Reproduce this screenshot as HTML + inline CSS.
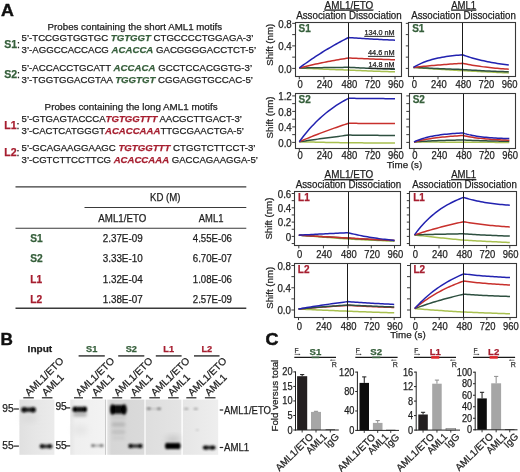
<!DOCTYPE html>
<html><head><meta charset="utf-8"><style>
html,body{margin:0;padding:0;background:#fff;}
svg{display:block;font-family:"Liberation Sans",sans-serif;opacity:0.999;}
</style></head><body>
<svg width="520" height="472" viewBox="0 0 520 472">
<rect width="520" height="472" fill="#fff"/>
<text x="1.00" y="15.50" font-size="16.8" fill="#111" font-weight="bold" textLength="12.90" lengthAdjust="spacingAndGlyphs" stroke="#111" stroke-width="0.4">A</text>
<text x="47.60" y="30.00" font-size="9.8" fill="#1e1e1e" textLength="174.60" lengthAdjust="spacingAndGlyphs" stroke="#1e1e1e" stroke-width="0.25">Probes containing the short AML1 motifs</text>
<text x="4.3" y="47.8" font-size="10.6" font-weight="bold" fill="#365f3b" stroke="#365f3b" stroke-width="0.25">S1<tspan dx="-0.3" fill="#1e1e1e" stroke="#1e1e1e" font-weight="normal">:</tspan></text>
<text x="21.60" y="41.10" font-size="9.9" fill="#1e1e1e" stroke="#1e1e1e" stroke-width="0.25" textLength="231.90" lengthAdjust="spacingAndGlyphs"><tspan>5’-TCCGGTGGTGC </tspan><tspan font-weight="bold" font-style="italic" fill="#365f3b" stroke="#365f3b">TGTGGT</tspan><tspan> CTGCCCCTGGAGA-3’</tspan></text>
<text x="21.60" y="52.90" font-size="9.9" fill="#1e1e1e" stroke="#1e1e1e" stroke-width="0.25" textLength="234.50" lengthAdjust="spacingAndGlyphs"><tspan>3’-AGGCCACCACG </tspan><tspan font-weight="bold" font-style="italic" fill="#365f3b" stroke="#365f3b">ACACCA</tspan><tspan> GACGGGGACCTCT-5’</tspan></text>
<text x="4.3" y="77.5" font-size="10.6" font-weight="bold" fill="#365f3b" stroke="#365f3b" stroke-width="0.25">S2<tspan dx="-0.3" fill="#1e1e1e" stroke="#1e1e1e" font-weight="normal">:</tspan></text>
<text x="21.60" y="71.40" font-size="9.9" fill="#1e1e1e" stroke="#1e1e1e" stroke-width="0.25" textLength="230.50" lengthAdjust="spacingAndGlyphs"><tspan>5’-ACCACCTGCATT </tspan><tspan font-weight="bold" font-style="italic" fill="#365f3b" stroke="#365f3b">ACCACA</tspan><tspan> GCCTCCACGGTG-3’</tspan></text>
<text x="21.60" y="83.40" font-size="9.9" fill="#1e1e1e" stroke="#1e1e1e" stroke-width="0.25" textLength="231.30" lengthAdjust="spacingAndGlyphs"><tspan>3’-TGGTGGACGTAA </tspan><tspan font-weight="bold" font-style="italic" fill="#365f3b" stroke="#365f3b">TGGTGT</tspan><tspan> CGGAGGTGCCAC-5’</tspan></text>
<text x="44.60" y="109.50" font-size="9.8" fill="#1e1e1e" textLength="173.00" lengthAdjust="spacingAndGlyphs" stroke="#1e1e1e" stroke-width="0.25">Probes containing the long AML1 motifs</text>
<text x="4.3" y="128.5" font-size="10.6" font-weight="bold" fill="#a61e2f" stroke="#a61e2f" stroke-width="0.25">L1<tspan dx="-0.3" fill="#1e1e1e" stroke="#1e1e1e" font-weight="normal">:</tspan></text>
<text x="21.60" y="122.30" font-size="9.9" fill="#1e1e1e" stroke="#1e1e1e" stroke-width="0.25" textLength="220.40" lengthAdjust="spacingAndGlyphs"><tspan>5’-GTGAGTACCCA</tspan><tspan font-weight="bold" font-style="italic" fill="#a61e2f" stroke="#a61e2f">TGTGGTTT</tspan><tspan> AACGCTTGACT-3’</tspan></text>
<text x="21.60" y="134.00" font-size="9.9" fill="#1e1e1e" stroke="#1e1e1e" stroke-width="0.25" textLength="222.40" lengthAdjust="spacingAndGlyphs"><tspan>3’-CACTCATGGGT</tspan><tspan font-weight="bold" font-style="italic" fill="#a61e2f" stroke="#a61e2f">ACACCAAA</tspan><tspan>TTGCGAACTGA-5’</tspan></text>
<text x="4.3" y="155.7" font-size="10.6" font-weight="bold" fill="#a61e2f" stroke="#a61e2f" stroke-width="0.25">L2<tspan dx="-0.3" fill="#1e1e1e" stroke="#1e1e1e" font-weight="normal">:</tspan></text>
<text x="21.60" y="151.10" font-size="9.9" fill="#1e1e1e" stroke="#1e1e1e" stroke-width="0.25" textLength="233.90" lengthAdjust="spacingAndGlyphs"><tspan>5’-GCAGAAGGAAGC </tspan><tspan font-weight="bold" font-style="italic" fill="#a61e2f" stroke="#a61e2f">TGTGGTTT</tspan><tspan> CTGGTCTTCCT-3’</tspan></text>
<text x="21.60" y="162.80" font-size="9.9" fill="#1e1e1e" stroke="#1e1e1e" stroke-width="0.25" textLength="236.40" lengthAdjust="spacingAndGlyphs"><tspan>3’-CGTCTTCCTTCG </tspan><tspan font-weight="bold" font-style="italic" fill="#a61e2f" stroke="#a61e2f">ACACCAAA</tspan><tspan> GACCAGAAGGA-5’</tspan></text>
<line x1="15.50" y1="186.80" x2="246.30" y2="186.80" stroke="#3a3a3a" stroke-width="1.3"/>
<line x1="84.50" y1="207.50" x2="246.30" y2="207.50" stroke="#3a3a3a" stroke-width="1.1"/>
<line x1="15.50" y1="228.30" x2="246.30" y2="228.30" stroke="#3a3a3a" stroke-width="1.1"/>
<line x1="15.50" y1="308.20" x2="246.30" y2="308.20" stroke="#3a3a3a" stroke-width="1.5"/>
<text x="150.00" y="200.90" font-size="10.2" fill="#1e1e1e" textLength="30.50" lengthAdjust="spacingAndGlyphs" stroke="#1e1e1e" stroke-width="0.25">KD (M)</text>
<text x="98.30" y="221.60" font-size="10.2" fill="#1e1e1e" textLength="48.00" lengthAdjust="spacingAndGlyphs" stroke="#1e1e1e" stroke-width="0.25">AML1/ETO</text>
<text x="198.80" y="221.60" font-size="10.2" fill="#1e1e1e" textLength="24.60" lengthAdjust="spacingAndGlyphs" stroke="#1e1e1e" stroke-width="0.25">AML1</text>
<text x="30.20" y="241.70" font-size="10.2" fill="#365f3b" font-weight="bold" stroke="#365f3b" stroke-width="0.25">S1</text>
<text x="102.70" y="241.70" font-size="10.2" fill="#1e1e1e" textLength="40.00" lengthAdjust="spacingAndGlyphs" stroke="#1e1e1e" stroke-width="0.25">2.37E-09</text>
<text x="192.80" y="241.70" font-size="10.2" fill="#1e1e1e" textLength="39.20" lengthAdjust="spacingAndGlyphs" stroke="#1e1e1e" stroke-width="0.25">4.55E-06</text>
<text x="30.20" y="262.30" font-size="10.2" fill="#365f3b" font-weight="bold" stroke="#365f3b" stroke-width="0.25">S2</text>
<text x="102.70" y="262.30" font-size="10.2" fill="#1e1e1e" textLength="40.00" lengthAdjust="spacingAndGlyphs" stroke="#1e1e1e" stroke-width="0.25">3.33E-10</text>
<text x="192.80" y="262.30" font-size="10.2" fill="#1e1e1e" textLength="39.20" lengthAdjust="spacingAndGlyphs" stroke="#1e1e1e" stroke-width="0.25">6.70E-07</text>
<text x="30.20" y="282.90" font-size="10.2" fill="#a61e2f" font-weight="bold" stroke="#a61e2f" stroke-width="0.25">L1</text>
<text x="102.70" y="282.90" font-size="10.2" fill="#1e1e1e" textLength="40.00" lengthAdjust="spacingAndGlyphs" stroke="#1e1e1e" stroke-width="0.25">1.32E-04</text>
<text x="192.80" y="282.90" font-size="10.2" fill="#1e1e1e" textLength="39.20" lengthAdjust="spacingAndGlyphs" stroke="#1e1e1e" stroke-width="0.25">1.08E-06</text>
<text x="30.20" y="303.40" font-size="10.2" fill="#a61e2f" font-weight="bold" stroke="#a61e2f" stroke-width="0.25">L2</text>
<text x="102.70" y="303.40" font-size="10.2" fill="#1e1e1e" textLength="40.00" lengthAdjust="spacingAndGlyphs" stroke="#1e1e1e" stroke-width="0.25">1.38E-07</text>
<text x="192.80" y="303.40" font-size="10.2" fill="#1e1e1e" textLength="39.20" lengthAdjust="spacingAndGlyphs" stroke="#1e1e1e" stroke-width="0.25">2.57E-09</text>
<path d="M299.30,68.00 L301.35,68.10 L303.41,68.20 L305.46,68.30 L307.52,68.40 L309.57,68.49 L311.62,68.59 L313.68,68.68 L315.73,68.77 L317.79,68.86 L319.84,68.95 L321.90,69.04 L323.95,69.13 L326.00,69.22 L328.06,69.30 L330.11,69.39 L332.17,69.47 L334.22,69.55 L336.28,69.63 L338.33,69.71 L340.38,69.79 L342.44,69.87 L344.49,69.95 L346.55,70.02 L348.60,70.10 L350.53,70.19 L352.47,70.28 L354.40,70.36 L356.33,70.45 L358.27,70.53 L360.20,70.61 L362.13,70.69 L364.07,70.76 L366.00,70.84 L367.93,70.91 L369.87,70.98 L371.80,71.06 L373.73,71.13 L375.67,71.19 L377.60,71.26 L379.53,71.32 L381.47,71.39 L383.40,71.45 L385.33,71.51 L387.27,71.57 L389.20,71.63 L391.13,71.69 L393.07,71.74 L395.00,71.80" fill="none" stroke="#a8c050" stroke-width="1.5" stroke-linejoin="round"/>
<path d="M299.30,68.00 L301.35,67.97 L303.41,67.93 L305.46,67.90 L307.52,67.87 L309.57,67.84 L311.62,67.80 L313.68,67.77 L315.73,67.74 L317.79,67.71 L319.84,67.68 L321.90,67.65 L323.95,67.62 L326.00,67.59 L328.06,67.57 L330.11,67.54 L332.17,67.51 L334.22,67.48 L336.28,67.46 L338.33,67.43 L340.38,67.40 L342.44,67.38 L344.49,67.35 L346.55,67.33 L348.60,67.30 L350.53,67.40 L352.47,67.51 L354.40,67.61 L356.33,67.71 L358.27,67.80 L360.20,67.90 L362.13,67.99 L364.07,68.08 L366.00,68.17 L367.93,68.26 L369.87,68.34 L371.80,68.42 L373.73,68.51 L375.67,68.59 L377.60,68.66 L379.53,68.74 L381.47,68.82 L383.40,68.89 L385.33,68.96 L387.27,69.03 L389.20,69.10 L391.13,69.17 L393.07,69.24 L395.00,69.30" fill="none" stroke="#2e5040" stroke-width="1.5" stroke-linejoin="round"/>
<path d="M299.30,68.00 L301.35,67.48 L303.41,66.96 L305.46,66.46 L307.52,65.97 L309.57,65.49 L311.62,65.01 L313.68,64.55 L315.73,64.10 L317.79,63.65 L319.84,63.22 L321.90,62.79 L323.95,62.38 L326.00,61.97 L328.06,61.57 L330.11,61.18 L332.17,60.80 L334.22,60.42 L336.28,60.05 L338.33,59.69 L340.38,59.34 L342.44,58.99 L344.49,58.66 L346.55,58.32 L348.60,58.00 L350.53,58.09 L352.47,58.19 L354.40,58.28 L356.33,58.37 L358.27,58.45 L360.20,58.54 L362.13,58.62 L364.07,58.70 L366.00,58.78 L367.93,58.86 L369.87,58.94 L371.80,59.01 L373.73,59.09 L375.67,59.16 L377.60,59.23 L379.53,59.30 L381.47,59.36 L383.40,59.43 L385.33,59.50 L387.27,59.56 L389.20,59.62 L391.13,59.68 L393.07,59.74 L395.00,59.80" fill="none" stroke="#c8302c" stroke-width="1.5" stroke-linejoin="round"/>
<path d="M299.30,68.00 L301.35,66.47 L303.41,64.97 L305.46,63.49 L307.52,62.03 L309.57,60.60 L311.62,59.20 L313.68,57.81 L315.73,56.45 L317.79,55.11 L319.84,53.80 L321.90,52.50 L323.95,51.23 L326.00,49.98 L328.06,48.75 L330.11,47.54 L332.17,46.35 L334.22,45.17 L336.28,44.02 L338.33,42.89 L340.38,41.78 L342.44,40.68 L344.49,39.60 L346.55,38.54 L348.60,37.50 L350.53,37.64 L352.47,37.78 L354.40,37.92 L356.33,38.05 L358.27,38.18 L360.20,38.31 L362.13,38.43 L364.07,38.55 L366.00,38.67 L367.93,38.79 L369.87,38.91 L371.80,39.02 L373.73,39.13 L375.67,39.24 L377.60,39.34 L379.53,39.45 L381.47,39.55 L383.40,39.65 L385.33,39.74 L387.27,39.84 L389.20,39.93 L391.13,40.02 L393.07,40.11 L395.00,40.20" fill="none" stroke="#2222b0" stroke-width="1.5" stroke-linejoin="round"/>
<line x1="348.50" y1="22.00" x2="348.50" y2="76.30" stroke="#1a1a1a" stroke-width="1"/>
<rect x="295.50" y="22.50" width="106.00" height="54.00" fill="none" stroke="#383838" stroke-width="1.1"/>
<line x1="292.20" y1="68.40" x2="295.20" y2="68.40" stroke="#383838" stroke-width="1"/>
<text x="278.23" y="72.70" font-size="10.5" fill="#1e1e1e" textLength="13.57" lengthAdjust="spacingAndGlyphs" stroke="#1e1e1e" stroke-width="0.25">0.0</text>
<line x1="292.20" y1="45.88" x2="295.20" y2="45.88" stroke="#383838" stroke-width="1"/>
<text x="278.23" y="50.18" font-size="10.5" fill="#1e1e1e" textLength="13.57" lengthAdjust="spacingAndGlyphs" stroke="#1e1e1e" stroke-width="0.25">0.4</text>
<line x1="292.20" y1="23.36" x2="295.20" y2="23.36" stroke="#383838" stroke-width="1"/>
<text x="278.23" y="27.66" font-size="10.5" fill="#1e1e1e" textLength="13.57" lengthAdjust="spacingAndGlyphs" stroke="#1e1e1e" stroke-width="0.25">0.8</text>
<line x1="292.20" y1="57.14" x2="295.20" y2="57.14" stroke="#383838" stroke-width="1"/>
<line x1="292.20" y1="34.62" x2="295.20" y2="34.62" stroke="#383838" stroke-width="1"/>
<line x1="299.30" y1="76.30" x2="299.30" y2="79.30" stroke="#383838" stroke-width="1"/>
<text x="297.47" y="87.70" font-size="10.5" fill="#1e1e1e" textLength="5.26" lengthAdjust="spacingAndGlyphs" stroke="#1e1e1e" stroke-width="0.25">0</text>
<line x1="323.95" y1="76.30" x2="323.95" y2="79.30" stroke="#383838" stroke-width="1"/>
<text x="316.87" y="87.70" font-size="10.5" fill="#1e1e1e" textLength="15.77" lengthAdjust="spacingAndGlyphs" stroke="#1e1e1e" stroke-width="0.25">240</text>
<line x1="348.60" y1="76.30" x2="348.60" y2="79.30" stroke="#383838" stroke-width="1"/>
<text x="341.52" y="87.70" font-size="10.5" fill="#1e1e1e" textLength="15.77" lengthAdjust="spacingAndGlyphs" stroke="#1e1e1e" stroke-width="0.25">480</text>
<line x1="371.80" y1="76.30" x2="371.80" y2="79.30" stroke="#383838" stroke-width="1"/>
<text x="364.72" y="87.70" font-size="10.5" fill="#1e1e1e" textLength="15.77" lengthAdjust="spacingAndGlyphs" stroke="#1e1e1e" stroke-width="0.25">720</text>
<line x1="395.00" y1="76.30" x2="395.00" y2="79.30" stroke="#383838" stroke-width="1"/>
<text x="387.92" y="87.70" font-size="10.5" fill="#1e1e1e" textLength="15.77" lengthAdjust="spacingAndGlyphs" stroke="#1e1e1e" stroke-width="0.25">960</text>
<text x="298.60" y="31.70" font-size="10.0" fill="#365f3b" font-weight="bold" stroke="#365f3b" stroke-width="0.25">S1</text>
<text transform="translate(272.50,44.80) rotate(-90)" font-size="9.7" fill="#1e1e1e" stroke="#1e1e1e" stroke-width="0.25" text-anchor="middle">Shift (nm)</text>
<text x="324.60" y="8.60" font-size="10.6" fill="#1e1e1e" textLength="48.70" lengthAdjust="spacingAndGlyphs" stroke="#1e1e1e" stroke-width="0.25" text-decoration="underline">AML1/ETO</text>
<text x="296.20" y="19.00" font-size="10.0" fill="#1e1e1e" textLength="105.50" lengthAdjust="spacingAndGlyphs" stroke="#1e1e1e" stroke-width="0.25">Association Dissociation</text>
<path d="M413.50,67.40 L415.54,67.57 L417.58,67.73 L419.62,67.89 L421.67,68.05 L423.71,68.20 L425.75,68.36 L427.79,68.50 L429.83,68.65 L431.88,68.79 L433.92,68.93 L435.96,69.07 L438.00,69.20 L440.04,69.33 L442.08,69.46 L444.12,69.58 L446.17,69.71 L448.21,69.83 L450.25,69.94 L452.29,70.06 L454.33,70.17 L456.38,70.28 L458.42,70.39 L460.46,70.50 L462.50,70.60 L464.43,70.71 L466.36,70.82 L468.29,70.93 L470.22,71.03 L472.15,71.14 L474.07,71.24 L476.00,71.34 L477.93,71.44 L479.86,71.54 L481.79,71.64 L483.72,71.74 L485.65,71.84 L487.58,71.93 L489.51,72.02 L491.44,72.12 L493.37,72.21 L495.30,72.30 L497.23,72.39 L499.15,72.48 L501.08,72.56 L503.01,72.65 L504.94,72.73 L506.87,72.82 L508.80,72.90" fill="none" stroke="#a8c050" stroke-width="1.5" stroke-linejoin="round"/>
<path d="M413.50,67.40 L415.54,67.51 L417.58,67.62 L419.62,67.72 L421.67,67.83 L423.71,67.93 L425.75,68.03 L427.79,68.12 L429.83,68.22 L431.88,68.31 L433.92,68.40 L435.96,68.49 L438.00,68.58 L440.04,68.67 L442.08,68.75 L444.12,68.83 L446.17,68.91 L448.21,68.99 L450.25,69.07 L452.29,69.14 L454.33,69.22 L456.38,69.29 L458.42,69.36 L460.46,69.43 L462.50,69.50 L464.43,69.64 L466.36,69.77 L468.29,69.90 L470.22,70.02 L472.15,70.14 L474.07,70.26 L476.00,70.37 L477.93,70.48 L479.86,70.58 L481.79,70.68 L483.72,70.78 L485.65,70.88 L487.58,70.97 L489.51,71.06 L491.44,71.14 L493.37,71.23 L495.30,71.31 L497.23,71.38 L499.15,71.46 L501.08,71.53 L503.01,71.60 L504.94,71.67 L506.87,71.74 L508.80,71.80" fill="none" stroke="#2e5040" stroke-width="1.5" stroke-linejoin="round"/>
<path d="M413.50,67.40 L415.54,67.18 L417.58,66.96 L419.62,66.74 L421.67,66.54 L423.71,66.33 L425.75,66.13 L427.79,65.94 L429.83,65.75 L431.88,65.57 L433.92,65.39 L435.96,65.22 L438.00,65.04 L440.04,64.88 L442.08,64.72 L444.12,64.56 L446.17,64.40 L448.21,64.25 L450.25,64.11 L452.29,63.96 L454.33,63.82 L456.38,63.69 L458.42,63.56 L460.46,63.43 L462.50,63.30 L464.43,63.71 L466.36,64.10 L468.29,64.48 L470.22,64.83 L472.15,65.17 L474.07,65.49 L476.00,65.79 L477.93,66.08 L479.86,66.36 L481.79,66.62 L483.72,66.87 L485.65,67.11 L487.58,67.34 L489.51,67.55 L491.44,67.75 L493.37,67.95 L495.30,68.13 L497.23,68.31 L499.15,68.48 L501.08,68.64 L503.01,68.79 L504.94,68.93 L506.87,69.07 L508.80,69.20" fill="none" stroke="#c8302c" stroke-width="1.5" stroke-linejoin="round"/>
<path d="M413.50,67.40 L415.54,66.20 L417.58,65.09 L419.62,64.09 L421.67,63.16 L423.71,62.31 L425.75,61.54 L427.79,60.82 L429.83,60.17 L431.88,59.57 L433.92,59.03 L435.96,58.53 L438.00,58.07 L440.04,57.65 L442.08,57.26 L444.12,56.91 L446.17,56.58 L448.21,56.29 L450.25,56.01 L452.29,55.76 L454.33,55.54 L456.38,55.33 L458.42,55.14 L460.46,54.96 L462.50,54.80 L464.43,55.48 L466.36,56.14 L468.29,56.76 L470.22,57.36 L472.15,57.93 L474.07,58.48 L476.00,59.00 L477.93,59.49 L479.86,59.97 L481.79,60.42 L483.72,60.85 L485.65,61.27 L487.58,61.66 L489.51,62.04 L491.44,62.40 L493.37,62.75 L495.30,63.07 L497.23,63.39 L499.15,63.69 L501.08,63.98 L503.01,64.25 L504.94,64.51 L506.87,64.76 L508.80,65.00" fill="none" stroke="#2222b0" stroke-width="1.5" stroke-linejoin="round"/>
<line x1="462.50" y1="22.00" x2="462.50" y2="76.30" stroke="#1a1a1a" stroke-width="1"/>
<rect x="408.50" y="22.50" width="107.00" height="54.00" fill="none" stroke="#383838" stroke-width="1.1"/>
<line x1="405.80" y1="68.40" x2="408.80" y2="68.40" stroke="#383838" stroke-width="1"/>
<line x1="405.80" y1="45.88" x2="408.80" y2="45.88" stroke="#383838" stroke-width="1"/>
<line x1="405.80" y1="23.36" x2="408.80" y2="23.36" stroke="#383838" stroke-width="1"/>
<line x1="405.80" y1="57.14" x2="408.80" y2="57.14" stroke="#383838" stroke-width="1"/>
<line x1="405.80" y1="34.62" x2="408.80" y2="34.62" stroke="#383838" stroke-width="1"/>
<line x1="413.50" y1="76.30" x2="413.50" y2="79.30" stroke="#383838" stroke-width="1"/>
<text x="411.67" y="87.70" font-size="10.5" fill="#1e1e1e" textLength="5.26" lengthAdjust="spacingAndGlyphs" stroke="#1e1e1e" stroke-width="0.25">0</text>
<line x1="438.00" y1="76.30" x2="438.00" y2="79.30" stroke="#383838" stroke-width="1"/>
<text x="430.92" y="87.70" font-size="10.5" fill="#1e1e1e" textLength="15.77" lengthAdjust="spacingAndGlyphs" stroke="#1e1e1e" stroke-width="0.25">240</text>
<line x1="462.50" y1="76.30" x2="462.50" y2="79.30" stroke="#383838" stroke-width="1"/>
<text x="455.42" y="87.70" font-size="10.5" fill="#1e1e1e" textLength="15.77" lengthAdjust="spacingAndGlyphs" stroke="#1e1e1e" stroke-width="0.25">480</text>
<line x1="485.65" y1="76.30" x2="485.65" y2="79.30" stroke="#383838" stroke-width="1"/>
<text x="478.57" y="87.70" font-size="10.5" fill="#1e1e1e" textLength="15.77" lengthAdjust="spacingAndGlyphs" stroke="#1e1e1e" stroke-width="0.25">720</text>
<line x1="508.80" y1="76.30" x2="508.80" y2="79.30" stroke="#383838" stroke-width="1"/>
<text x="501.72" y="87.70" font-size="10.5" fill="#1e1e1e" textLength="15.77" lengthAdjust="spacingAndGlyphs" stroke="#1e1e1e" stroke-width="0.25">960</text>
<text x="412.20" y="31.70" font-size="10.0" fill="#365f3b" font-weight="bold" stroke="#365f3b" stroke-width="0.25">S1</text>
<text x="451.20" y="8.60" font-size="10.6" fill="#1e1e1e" textLength="25.00" lengthAdjust="spacingAndGlyphs" stroke="#1e1e1e" stroke-width="0.25" text-decoration="underline">AML1</text>
<text x="411.20" y="19.00" font-size="10.0" fill="#1e1e1e" textLength="104.60" lengthAdjust="spacingAndGlyphs" stroke="#1e1e1e" stroke-width="0.25">Association Dissociation</text>
<path d="M299.30,141.80 L301.35,141.85 L303.41,141.90 L305.46,141.94 L307.52,141.99 L309.57,142.03 L311.62,142.08 L313.68,142.12 L315.73,142.17 L317.79,142.21 L319.84,142.25 L321.90,142.30 L323.95,142.34 L326.00,142.38 L328.06,142.42 L330.11,142.46 L332.17,142.50 L334.22,142.54 L336.28,142.58 L338.33,142.62 L340.38,142.65 L342.44,142.69 L344.49,142.73 L346.55,142.76 L348.60,142.80 L350.53,142.81 L352.47,142.82 L354.40,142.83 L356.33,142.84 L358.27,142.85 L360.20,142.86 L362.13,142.87 L364.07,142.88 L366.00,142.89 L367.93,142.90 L369.87,142.90 L371.80,142.91 L373.73,142.92 L375.67,142.93 L377.60,142.94 L379.53,142.94 L381.47,142.95 L383.40,142.96 L385.33,142.97 L387.27,142.97 L389.20,142.98 L391.13,142.99 L393.07,142.99 L395.00,143.00" fill="none" stroke="#a8c050" stroke-width="1.5" stroke-linejoin="round"/>
<path d="M299.30,141.80 L301.35,141.49 L303.41,141.19 L305.46,140.89 L307.52,140.59 L309.57,140.29 L311.62,140.00 L313.68,139.71 L315.73,139.42 L317.79,139.13 L319.84,138.84 L321.90,138.56 L323.95,138.28 L326.00,138.01 L328.06,137.73 L330.11,137.46 L332.17,137.19 L334.22,136.92 L336.28,136.65 L338.33,136.39 L340.38,136.13 L342.44,135.87 L344.49,135.61 L346.55,135.35 L348.60,135.10 L350.53,135.12 L352.47,135.14 L354.40,135.16 L356.33,135.18 L358.27,135.20 L360.20,135.22 L362.13,135.24 L364.07,135.26 L366.00,135.27 L367.93,135.29 L369.87,135.31 L371.80,135.32 L373.73,135.34 L375.67,135.36 L377.60,135.37 L379.53,135.39 L381.47,135.40 L383.40,135.42 L385.33,135.43 L387.27,135.45 L389.20,135.46 L391.13,135.47 L393.07,135.49 L395.00,135.50" fill="none" stroke="#2e5040" stroke-width="1.5" stroke-linejoin="round"/>
<path d="M299.30,141.80 L301.35,140.91 L303.41,140.04 L305.46,139.17 L307.52,138.32 L309.57,137.48 L311.62,136.64 L313.68,135.82 L315.73,135.01 L317.79,134.21 L319.84,133.41 L321.90,132.63 L323.95,131.86 L326.00,131.09 L328.06,130.34 L330.11,129.60 L332.17,128.86 L334.22,128.14 L336.28,127.42 L338.33,126.71 L340.38,126.01 L342.44,125.32 L344.49,124.64 L346.55,123.97 L348.60,123.30 L350.53,123.32 L352.47,123.33 L354.40,123.35 L356.33,123.36 L358.27,123.38 L360.20,123.39 L362.13,123.40 L364.07,123.42 L366.00,123.43 L367.93,123.44 L369.87,123.46 L371.80,123.47 L373.73,123.48 L375.67,123.49 L377.60,123.50 L379.53,123.52 L381.47,123.53 L383.40,123.54 L385.33,123.55 L387.27,123.56 L389.20,123.57 L391.13,123.58 L393.07,123.59 L395.00,123.60" fill="none" stroke="#c8302c" stroke-width="1.5" stroke-linejoin="round"/>
<path d="M299.30,141.80 L301.35,138.99 L303.41,136.30 L305.46,133.71 L307.52,131.24 L309.57,128.86 L311.62,126.58 L313.68,124.39 L315.73,122.29 L317.79,120.28 L319.84,118.35 L321.90,116.50 L323.95,114.72 L326.00,113.02 L328.06,111.39 L330.11,109.82 L332.17,108.32 L334.22,106.87 L336.28,105.49 L338.33,104.16 L340.38,102.89 L342.44,101.67 L344.49,100.50 L346.55,99.38 L348.60,98.30 L350.53,98.32 L352.47,98.34 L354.40,98.36 L356.33,98.38 L358.27,98.40 L360.20,98.42 L362.13,98.44 L364.07,98.46 L366.00,98.47 L367.93,98.49 L369.87,98.51 L371.80,98.52 L373.73,98.54 L375.67,98.56 L377.60,98.57 L379.53,98.59 L381.47,98.60 L383.40,98.62 L385.33,98.63 L387.27,98.65 L389.20,98.66 L391.13,98.67 L393.07,98.69 L395.00,98.70" fill="none" stroke="#2222b0" stroke-width="1.5" stroke-linejoin="round"/>
<line x1="348.50" y1="93.70" x2="348.50" y2="148.20" stroke="#1a1a1a" stroke-width="1"/>
<rect x="295.50" y="93.50" width="106.00" height="55.00" fill="none" stroke="#383838" stroke-width="1.1"/>
<line x1="292.20" y1="142.40" x2="295.20" y2="142.40" stroke="#383838" stroke-width="1"/>
<text x="278.23" y="146.70" font-size="10.5" fill="#1e1e1e" textLength="13.57" lengthAdjust="spacingAndGlyphs" stroke="#1e1e1e" stroke-width="0.25">0.0</text>
<line x1="292.20" y1="126.90" x2="295.20" y2="126.90" stroke="#383838" stroke-width="1"/>
<text x="278.23" y="131.20" font-size="10.5" fill="#1e1e1e" textLength="13.57" lengthAdjust="spacingAndGlyphs" stroke="#1e1e1e" stroke-width="0.25">0.4</text>
<line x1="292.20" y1="111.40" x2="295.20" y2="111.40" stroke="#383838" stroke-width="1"/>
<text x="278.23" y="115.70" font-size="10.5" fill="#1e1e1e" textLength="13.57" lengthAdjust="spacingAndGlyphs" stroke="#1e1e1e" stroke-width="0.25">0.8</text>
<line x1="292.20" y1="95.90" x2="295.20" y2="95.90" stroke="#383838" stroke-width="1"/>
<text x="278.23" y="100.20" font-size="10.5" fill="#1e1e1e" textLength="13.57" lengthAdjust="spacingAndGlyphs" stroke="#1e1e1e" stroke-width="0.25">1.2</text>
<line x1="292.20" y1="134.65" x2="295.20" y2="134.65" stroke="#383838" stroke-width="1"/>
<line x1="292.20" y1="119.15" x2="295.20" y2="119.15" stroke="#383838" stroke-width="1"/>
<line x1="292.20" y1="103.65" x2="295.20" y2="103.65" stroke="#383838" stroke-width="1"/>
<line x1="299.30" y1="148.20" x2="299.30" y2="151.20" stroke="#383838" stroke-width="1"/>
<text x="297.47" y="159.40" font-size="10.5" fill="#1e1e1e" textLength="5.26" lengthAdjust="spacingAndGlyphs" stroke="#1e1e1e" stroke-width="0.25">0</text>
<line x1="323.95" y1="148.20" x2="323.95" y2="151.20" stroke="#383838" stroke-width="1"/>
<text x="316.87" y="159.40" font-size="10.5" fill="#1e1e1e" textLength="15.77" lengthAdjust="spacingAndGlyphs" stroke="#1e1e1e" stroke-width="0.25">240</text>
<line x1="348.60" y1="148.20" x2="348.60" y2="151.20" stroke="#383838" stroke-width="1"/>
<text x="341.52" y="159.40" font-size="10.5" fill="#1e1e1e" textLength="15.77" lengthAdjust="spacingAndGlyphs" stroke="#1e1e1e" stroke-width="0.25">480</text>
<line x1="371.80" y1="148.20" x2="371.80" y2="151.20" stroke="#383838" stroke-width="1"/>
<text x="364.72" y="159.40" font-size="10.5" fill="#1e1e1e" textLength="15.77" lengthAdjust="spacingAndGlyphs" stroke="#1e1e1e" stroke-width="0.25">720</text>
<line x1="395.00" y1="148.20" x2="395.00" y2="151.20" stroke="#383838" stroke-width="1"/>
<text x="387.92" y="159.40" font-size="10.5" fill="#1e1e1e" textLength="15.77" lengthAdjust="spacingAndGlyphs" stroke="#1e1e1e" stroke-width="0.25">960</text>
<text x="298.60" y="103.40" font-size="10.0" fill="#365f3b" font-weight="bold" stroke="#365f3b" stroke-width="0.25">S2</text>
<text transform="translate(273.40,117.40) rotate(-90)" font-size="9.7" fill="#1e1e1e" stroke="#1e1e1e" stroke-width="0.25" text-anchor="middle">Shift (nm)</text>
<path d="M414.00,141.90 L416.04,141.92 L418.08,141.94 L420.12,141.96 L422.17,141.98 L424.21,142.00 L426.25,142.02 L428.29,142.04 L430.33,142.06 L432.38,142.07 L434.42,142.09 L436.46,142.11 L438.50,142.12 L440.54,142.14 L442.58,142.16 L444.62,142.17 L446.67,142.19 L448.71,142.20 L450.75,142.22 L452.79,142.23 L454.83,142.25 L456.88,142.26 L458.92,142.27 L460.96,142.29 L463.00,142.30 L464.93,142.31 L466.86,142.31 L468.79,142.32 L470.72,142.32 L472.65,142.33 L474.57,142.33 L476.50,142.33 L478.43,142.34 L480.36,142.34 L482.29,142.35 L484.22,142.35 L486.15,142.36 L488.08,142.36 L490.01,142.36 L491.94,142.37 L493.87,142.37 L495.80,142.38 L497.73,142.38 L499.65,142.38 L501.58,142.39 L503.51,142.39 L505.44,142.39 L507.37,142.40 L509.30,142.40" fill="none" stroke="#a8c050" stroke-width="1.5" stroke-linejoin="round"/>
<path d="M414.00,141.90 L416.04,141.75 L418.08,141.61 L420.12,141.48 L422.17,141.36 L424.21,141.24 L426.25,141.14 L428.29,141.03 L430.33,140.94 L432.38,140.85 L434.42,140.76 L436.46,140.68 L438.50,140.61 L440.54,140.54 L442.58,140.47 L444.62,140.41 L446.67,140.35 L448.71,140.30 L450.75,140.25 L452.79,140.20 L454.83,140.15 L456.88,140.11 L458.92,140.07 L460.96,140.04 L463.00,140.00 L464.93,140.09 L466.86,140.18 L468.79,140.26 L470.72,140.34 L472.65,140.41 L474.57,140.48 L476.50,140.55 L478.43,140.61 L480.36,140.67 L482.29,140.73 L484.22,140.79 L486.15,140.84 L488.08,140.89 L490.01,140.94 L491.94,140.98 L493.87,141.02 L495.80,141.07 L497.73,141.10 L499.65,141.14 L501.58,141.18 L503.51,141.21 L505.44,141.24 L507.37,141.27 L509.30,141.30" fill="none" stroke="#2e5040" stroke-width="1.5" stroke-linejoin="round"/>
<path d="M414.00,141.90 L416.04,141.40 L418.08,140.93 L420.12,140.49 L422.17,140.08 L424.21,139.69 L426.25,139.32 L428.29,138.98 L430.33,138.66 L432.38,138.36 L434.42,138.07 L436.46,137.80 L438.50,137.55 L440.54,137.32 L442.58,137.10 L444.62,136.89 L446.67,136.69 L448.71,136.51 L450.75,136.34 L452.79,136.17 L454.83,136.02 L456.88,135.88 L458.92,135.74 L460.96,135.62 L463.00,135.50 L464.93,135.93 L466.86,136.33 L468.79,136.70 L470.72,137.04 L472.65,137.35 L474.57,137.64 L476.50,137.90 L478.43,138.14 L480.36,138.37 L482.29,138.57 L484.22,138.76 L486.15,138.94 L488.08,139.10 L490.01,139.24 L491.94,139.38 L493.87,139.50 L495.80,139.62 L497.73,139.72 L499.65,139.82 L501.58,139.91 L503.51,139.99 L505.44,140.07 L507.37,140.14 L509.30,140.20" fill="none" stroke="#c8302c" stroke-width="1.5" stroke-linejoin="round"/>
<path d="M414.00,141.90 L416.04,141.00 L418.08,140.17 L420.12,139.43 L422.17,138.75 L424.21,138.13 L426.25,137.57 L428.29,137.07 L430.33,136.60 L432.38,136.18 L434.42,135.80 L436.46,135.46 L438.50,135.14 L440.54,134.85 L442.58,134.59 L444.62,134.36 L446.67,134.14 L448.71,133.95 L450.75,133.77 L452.79,133.61 L454.83,133.46 L456.88,133.33 L458.92,133.21 L460.96,133.10 L463.00,133.00 L464.93,133.60 L466.86,134.15 L468.79,134.64 L470.72,135.08 L472.65,135.48 L474.57,135.84 L476.50,136.16 L478.43,136.45 L480.36,136.71 L482.29,136.95 L484.22,137.16 L486.15,137.35 L488.08,137.53 L490.01,137.68 L491.94,137.82 L493.87,137.95 L495.80,138.06 L497.73,138.17 L499.65,138.26 L501.58,138.34 L503.51,138.42 L505.44,138.48 L507.37,138.55 L509.30,138.60" fill="none" stroke="#2222b0" stroke-width="1.5" stroke-linejoin="round"/>
<line x1="463.50" y1="93.70" x2="463.50" y2="148.20" stroke="#1a1a1a" stroke-width="1"/>
<rect x="409.50" y="93.50" width="106.00" height="55.00" fill="none" stroke="#383838" stroke-width="1.1"/>
<line x1="406.30" y1="142.40" x2="409.30" y2="142.40" stroke="#383838" stroke-width="1"/>
<line x1="406.30" y1="126.90" x2="409.30" y2="126.90" stroke="#383838" stroke-width="1"/>
<line x1="406.30" y1="111.40" x2="409.30" y2="111.40" stroke="#383838" stroke-width="1"/>
<line x1="406.30" y1="95.90" x2="409.30" y2="95.90" stroke="#383838" stroke-width="1"/>
<line x1="406.30" y1="134.65" x2="409.30" y2="134.65" stroke="#383838" stroke-width="1"/>
<line x1="406.30" y1="119.15" x2="409.30" y2="119.15" stroke="#383838" stroke-width="1"/>
<line x1="406.30" y1="103.65" x2="409.30" y2="103.65" stroke="#383838" stroke-width="1"/>
<line x1="414.00" y1="148.20" x2="414.00" y2="151.20" stroke="#383838" stroke-width="1"/>
<text x="412.17" y="159.40" font-size="10.5" fill="#1e1e1e" textLength="5.26" lengthAdjust="spacingAndGlyphs" stroke="#1e1e1e" stroke-width="0.25">0</text>
<line x1="438.50" y1="148.20" x2="438.50" y2="151.20" stroke="#383838" stroke-width="1"/>
<text x="431.42" y="159.40" font-size="10.5" fill="#1e1e1e" textLength="15.77" lengthAdjust="spacingAndGlyphs" stroke="#1e1e1e" stroke-width="0.25">240</text>
<line x1="463.00" y1="148.20" x2="463.00" y2="151.20" stroke="#383838" stroke-width="1"/>
<text x="455.92" y="159.40" font-size="10.5" fill="#1e1e1e" textLength="15.77" lengthAdjust="spacingAndGlyphs" stroke="#1e1e1e" stroke-width="0.25">480</text>
<line x1="486.15" y1="148.20" x2="486.15" y2="151.20" stroke="#383838" stroke-width="1"/>
<text x="479.07" y="159.40" font-size="10.5" fill="#1e1e1e" textLength="15.77" lengthAdjust="spacingAndGlyphs" stroke="#1e1e1e" stroke-width="0.25">720</text>
<line x1="509.30" y1="148.20" x2="509.30" y2="151.20" stroke="#383838" stroke-width="1"/>
<text x="502.22" y="159.40" font-size="10.5" fill="#1e1e1e" textLength="15.77" lengthAdjust="spacingAndGlyphs" stroke="#1e1e1e" stroke-width="0.25">960</text>
<text x="412.70" y="103.40" font-size="10.0" fill="#365f3b" font-weight="bold" stroke="#365f3b" stroke-width="0.25">S2</text>
<path d="M298.80,235.20 L300.85,235.37 L302.91,235.53 L304.96,235.70 L307.02,235.86 L309.07,236.02 L311.12,236.19 L313.18,236.35 L315.23,236.51 L317.29,236.67 L319.34,236.83 L321.40,236.99 L323.45,237.15 L325.50,237.31 L327.56,237.46 L329.61,237.62 L331.67,237.78 L333.72,237.93 L335.78,238.09 L337.83,238.24 L339.88,238.39 L341.94,238.55 L343.99,238.70 L346.05,238.85 L348.10,239.00 L350.03,239.11 L351.97,239.21 L353.90,239.31 L355.83,239.41 L357.77,239.51 L359.70,239.61 L361.63,239.71 L363.57,239.81 L365.50,239.90 L367.43,240.00 L369.37,240.09 L371.30,240.18 L373.23,240.27 L375.17,240.36 L377.10,240.45 L379.03,240.54 L380.97,240.62 L382.90,240.71 L384.83,240.79 L386.77,240.88 L388.70,240.96 L390.63,241.04 L392.57,241.12 L394.50,241.20" fill="none" stroke="#a8c050" stroke-width="1.5" stroke-linejoin="round"/>
<path d="M298.80,235.20 L300.85,235.33 L302.91,235.46 L304.96,235.59 L307.02,235.72 L309.07,235.85 L311.12,235.98 L313.18,236.11 L315.23,236.23 L317.29,236.36 L319.34,236.49 L321.40,236.61 L323.45,236.74 L325.50,236.86 L327.56,236.99 L329.61,237.11 L331.67,237.23 L333.72,237.36 L335.78,237.48 L337.83,237.60 L339.88,237.72 L341.94,237.84 L343.99,237.96 L346.05,238.08 L348.10,238.20 L350.03,238.32 L351.97,238.43 L353.90,238.54 L355.83,238.65 L357.77,238.76 L359.70,238.87 L361.63,238.98 L363.57,239.08 L365.50,239.19 L367.43,239.29 L369.37,239.39 L371.30,239.49 L373.23,239.59 L375.17,239.69 L377.10,239.78 L379.03,239.88 L380.97,239.97 L382.90,240.07 L384.83,240.16 L386.77,240.25 L388.70,240.34 L390.63,240.43 L392.57,240.51 L394.50,240.60" fill="none" stroke="#2e5040" stroke-width="1.5" stroke-linejoin="round"/>
<path d="M298.80,235.20 L300.85,235.32 L302.91,235.44 L304.96,235.57 L307.02,235.69 L309.07,235.81 L311.12,235.93 L313.18,236.05 L315.23,236.16 L317.29,236.28 L319.34,236.40 L321.40,236.52 L323.45,236.63 L325.50,236.75 L327.56,236.87 L329.61,236.98 L331.67,237.10 L333.72,237.21 L335.78,237.33 L337.83,237.44 L339.88,237.55 L341.94,237.67 L343.99,237.78 L346.05,237.89 L348.10,238.00 L350.03,238.12 L351.97,238.23 L353.90,238.34 L355.83,238.45 L357.77,238.56 L359.70,238.67 L361.63,238.78 L363.57,238.88 L365.50,238.99 L367.43,239.09 L369.37,239.19 L371.30,239.29 L373.23,239.39 L375.17,239.49 L377.10,239.58 L379.03,239.68 L380.97,239.77 L382.90,239.87 L384.83,239.96 L386.77,240.05 L388.70,240.14 L390.63,240.23 L392.57,240.31 L394.50,240.40" fill="none" stroke="#c8302c" stroke-width="1.5" stroke-linejoin="round"/>
<path d="M298.80,235.20 L300.85,235.09 L302.91,234.97 L304.96,234.86 L307.02,234.75 L309.07,234.64 L311.12,234.53 L313.18,234.42 L315.23,234.31 L317.29,234.20 L319.34,234.10 L321.40,233.99 L323.45,233.89 L325.50,233.78 L327.56,233.68 L329.61,233.58 L331.67,233.48 L333.72,233.38 L335.78,233.28 L337.83,233.18 L339.88,233.08 L341.94,232.99 L343.99,232.89 L346.05,232.79 L348.10,232.70 L350.03,233.20 L351.97,233.67 L353.90,234.13 L355.83,234.57 L357.77,234.99 L359.70,235.39 L361.63,235.78 L363.57,236.15 L365.50,236.51 L367.43,236.85 L369.37,237.18 L371.30,237.49 L373.23,237.79 L375.17,238.08 L377.10,238.36 L379.03,238.63 L380.97,238.88 L382.90,239.13 L384.83,239.36 L386.77,239.59 L388.70,239.80 L390.63,240.01 L392.57,240.21 L394.50,240.40" fill="none" stroke="#2222b0" stroke-width="1.5" stroke-linejoin="round"/>
<line x1="348.50" y1="191.50" x2="348.50" y2="245.40" stroke="#1a1a1a" stroke-width="1"/>
<rect x="294.50" y="191.50" width="106.00" height="54.00" fill="none" stroke="#383838" stroke-width="1.1"/>
<line x1="291.70" y1="236.40" x2="294.70" y2="236.40" stroke="#383838" stroke-width="1"/>
<text x="285.87" y="240.70" font-size="10.5" fill="#1e1e1e" textLength="5.43" lengthAdjust="spacingAndGlyphs" stroke="#1e1e1e" stroke-width="0.25">0</text>
<line x1="291.70" y1="222.10" x2="294.70" y2="222.10" stroke="#383838" stroke-width="1"/>
<text x="277.73" y="226.40" font-size="10.5" fill="#1e1e1e" textLength="13.57" lengthAdjust="spacingAndGlyphs" stroke="#1e1e1e" stroke-width="0.25">0.2</text>
<line x1="291.70" y1="207.80" x2="294.70" y2="207.80" stroke="#383838" stroke-width="1"/>
<text x="277.73" y="212.10" font-size="10.5" fill="#1e1e1e" textLength="13.57" lengthAdjust="spacingAndGlyphs" stroke="#1e1e1e" stroke-width="0.25">0.4</text>
<line x1="291.70" y1="193.50" x2="294.70" y2="193.50" stroke="#383838" stroke-width="1"/>
<text x="277.73" y="197.80" font-size="10.5" fill="#1e1e1e" textLength="13.57" lengthAdjust="spacingAndGlyphs" stroke="#1e1e1e" stroke-width="0.25">0.6</text>
<line x1="291.70" y1="243.55" x2="294.70" y2="243.55" stroke="#383838" stroke-width="1"/>
<line x1="291.70" y1="229.25" x2="294.70" y2="229.25" stroke="#383838" stroke-width="1"/>
<line x1="291.70" y1="214.95" x2="294.70" y2="214.95" stroke="#383838" stroke-width="1"/>
<line x1="291.70" y1="200.65" x2="294.70" y2="200.65" stroke="#383838" stroke-width="1"/>
<line x1="298.80" y1="245.40" x2="298.80" y2="248.40" stroke="#383838" stroke-width="1"/>
<text x="296.97" y="257.70" font-size="10.5" fill="#1e1e1e" textLength="5.26" lengthAdjust="spacingAndGlyphs" stroke="#1e1e1e" stroke-width="0.25">0</text>
<line x1="323.45" y1="245.40" x2="323.45" y2="248.40" stroke="#383838" stroke-width="1"/>
<text x="316.37" y="257.70" font-size="10.5" fill="#1e1e1e" textLength="15.77" lengthAdjust="spacingAndGlyphs" stroke="#1e1e1e" stroke-width="0.25">240</text>
<line x1="348.10" y1="245.40" x2="348.10" y2="248.40" stroke="#383838" stroke-width="1"/>
<text x="341.02" y="257.70" font-size="10.5" fill="#1e1e1e" textLength="15.77" lengthAdjust="spacingAndGlyphs" stroke="#1e1e1e" stroke-width="0.25">480</text>
<line x1="371.30" y1="245.40" x2="371.30" y2="248.40" stroke="#383838" stroke-width="1"/>
<text x="364.22" y="257.70" font-size="10.5" fill="#1e1e1e" textLength="15.77" lengthAdjust="spacingAndGlyphs" stroke="#1e1e1e" stroke-width="0.25">720</text>
<line x1="394.50" y1="245.40" x2="394.50" y2="248.40" stroke="#383838" stroke-width="1"/>
<text x="387.42" y="257.70" font-size="10.5" fill="#1e1e1e" textLength="15.77" lengthAdjust="spacingAndGlyphs" stroke="#1e1e1e" stroke-width="0.25">960</text>
<text x="298.10" y="201.20" font-size="10.0" fill="#a61e2f" font-weight="bold" stroke="#a61e2f" stroke-width="0.25">L1</text>
<text transform="translate(272.30,218.60) rotate(-90)" font-size="9.7" fill="#1e1e1e" stroke="#1e1e1e" stroke-width="0.25" text-anchor="middle">Shift (nm)</text>
<text x="324.60" y="178.10" font-size="10.6" fill="#1e1e1e" textLength="48.70" lengthAdjust="spacingAndGlyphs" stroke="#1e1e1e" stroke-width="0.25" text-decoration="underline">AML1/ETO</text>
<text x="295.70" y="187.70" font-size="10.0" fill="#1e1e1e" textLength="105.50" lengthAdjust="spacingAndGlyphs" stroke="#1e1e1e" stroke-width="0.25">Association Dissociation</text>
<path d="M414.50,234.90 L416.54,235.15 L418.58,235.40 L420.62,235.64 L422.67,235.88 L424.71,236.12 L426.75,236.35 L428.79,236.58 L430.83,236.81 L432.88,237.03 L434.92,237.26 L436.96,237.48 L439.00,237.69 L441.04,237.91 L443.08,238.12 L445.12,238.33 L447.17,238.54 L449.21,238.74 L451.25,238.94 L453.29,239.14 L455.33,239.34 L457.38,239.53 L459.42,239.72 L461.46,239.91 L463.50,240.10 L465.43,240.22 L467.36,240.33 L469.29,240.44 L471.22,240.55 L473.15,240.66 L475.07,240.77 L477.00,240.88 L478.93,240.98 L480.86,241.09 L482.79,241.19 L484.72,241.29 L486.65,241.39 L488.58,241.49 L490.51,241.59 L492.44,241.68 L494.37,241.78 L496.30,241.87 L498.23,241.97 L500.15,242.06 L502.08,242.15 L504.01,242.24 L505.94,242.33 L507.87,242.41 L509.80,242.50" fill="none" stroke="#a8c050" stroke-width="1.5" stroke-linejoin="round"/>
<path d="M414.50,234.90 L416.54,234.84 L418.58,234.79 L420.62,234.73 L422.67,234.68 L424.71,234.62 L426.75,234.57 L428.79,234.52 L430.83,234.47 L432.88,234.42 L434.92,234.37 L436.96,234.33 L439.00,234.28 L441.04,234.24 L443.08,234.19 L445.12,234.15 L447.17,234.11 L449.21,234.07 L451.25,234.03 L453.29,233.99 L455.33,233.95 L457.38,233.91 L459.42,233.87 L461.46,233.84 L463.50,233.80 L465.43,233.94 L467.36,234.07 L469.29,234.20 L471.22,234.32 L473.15,234.44 L475.07,234.56 L477.00,234.67 L478.93,234.78 L480.86,234.88 L482.79,234.98 L484.72,235.08 L486.65,235.18 L488.58,235.27 L490.51,235.36 L492.44,235.44 L494.37,235.53 L496.30,235.61 L498.23,235.68 L500.15,235.76 L502.08,235.83 L504.01,235.90 L505.94,235.97 L507.87,236.04 L509.80,236.10" fill="none" stroke="#2e5040" stroke-width="1.5" stroke-linejoin="round"/>
<path d="M414.50,234.90 L416.54,234.24 L418.58,233.59 L420.62,232.95 L422.67,232.32 L424.71,231.70 L426.75,231.09 L428.79,230.49 L430.83,229.90 L432.88,229.32 L434.92,228.75 L436.96,228.19 L439.00,227.64 L441.04,227.10 L443.08,226.57 L445.12,226.04 L447.17,225.53 L449.21,225.02 L451.25,224.52 L453.29,224.03 L455.33,223.55 L457.38,223.08 L459.42,222.61 L461.46,222.15 L463.50,221.70 L465.43,222.04 L467.36,222.37 L469.29,222.69 L471.22,222.99 L473.15,223.28 L475.07,223.55 L477.00,223.82 L478.93,224.08 L480.86,224.32 L482.79,224.56 L484.72,224.78 L486.65,225.00 L488.58,225.21 L490.51,225.41 L492.44,225.60 L494.37,225.78 L496.30,225.96 L498.23,226.12 L500.15,226.29 L502.08,226.44 L504.01,226.59 L505.94,226.73 L507.87,226.87 L509.80,227.00" fill="none" stroke="#c8302c" stroke-width="1.5" stroke-linejoin="round"/>
<path d="M414.50,234.90 L416.54,232.15 L418.58,229.55 L420.62,227.09 L422.67,224.76 L424.71,222.56 L426.75,220.48 L428.79,218.51 L430.83,216.64 L432.88,214.88 L434.92,213.21 L436.96,211.63 L439.00,210.14 L441.04,208.72 L443.08,207.38 L445.12,206.12 L447.17,204.92 L449.21,203.79 L451.25,202.72 L453.29,201.71 L455.33,200.75 L457.38,199.84 L459.42,198.98 L461.46,198.17 L463.50,197.40 L465.43,198.01 L467.36,198.58 L469.29,199.12 L471.22,199.62 L473.15,200.09 L475.07,200.54 L477.00,200.96 L478.93,201.35 L480.86,201.72 L482.79,202.07 L484.72,202.39 L486.65,202.70 L488.58,202.98 L490.51,203.25 L492.44,203.51 L494.37,203.75 L496.30,203.97 L498.23,204.18 L500.15,204.38 L502.08,204.56 L504.01,204.74 L505.94,204.90 L507.87,205.06 L509.80,205.20" fill="none" stroke="#2222b0" stroke-width="1.5" stroke-linejoin="round"/>
<line x1="463.50" y1="191.50" x2="463.50" y2="245.40" stroke="#1a1a1a" stroke-width="1"/>
<rect x="409.50" y="191.50" width="107.00" height="54.00" fill="none" stroke="#383838" stroke-width="1.1"/>
<line x1="406.80" y1="236.40" x2="409.80" y2="236.40" stroke="#383838" stroke-width="1"/>
<line x1="406.80" y1="222.10" x2="409.80" y2="222.10" stroke="#383838" stroke-width="1"/>
<line x1="406.80" y1="207.80" x2="409.80" y2="207.80" stroke="#383838" stroke-width="1"/>
<line x1="406.80" y1="193.50" x2="409.80" y2="193.50" stroke="#383838" stroke-width="1"/>
<line x1="406.80" y1="243.55" x2="409.80" y2="243.55" stroke="#383838" stroke-width="1"/>
<line x1="406.80" y1="229.25" x2="409.80" y2="229.25" stroke="#383838" stroke-width="1"/>
<line x1="406.80" y1="214.95" x2="409.80" y2="214.95" stroke="#383838" stroke-width="1"/>
<line x1="406.80" y1="200.65" x2="409.80" y2="200.65" stroke="#383838" stroke-width="1"/>
<line x1="414.50" y1="245.40" x2="414.50" y2="248.40" stroke="#383838" stroke-width="1"/>
<text x="412.67" y="257.70" font-size="10.5" fill="#1e1e1e" textLength="5.26" lengthAdjust="spacingAndGlyphs" stroke="#1e1e1e" stroke-width="0.25">0</text>
<line x1="439.00" y1="245.40" x2="439.00" y2="248.40" stroke="#383838" stroke-width="1"/>
<text x="431.92" y="257.70" font-size="10.5" fill="#1e1e1e" textLength="15.77" lengthAdjust="spacingAndGlyphs" stroke="#1e1e1e" stroke-width="0.25">240</text>
<line x1="463.50" y1="245.40" x2="463.50" y2="248.40" stroke="#383838" stroke-width="1"/>
<text x="456.42" y="257.70" font-size="10.5" fill="#1e1e1e" textLength="15.77" lengthAdjust="spacingAndGlyphs" stroke="#1e1e1e" stroke-width="0.25">480</text>
<line x1="486.65" y1="245.40" x2="486.65" y2="248.40" stroke="#383838" stroke-width="1"/>
<text x="479.57" y="257.70" font-size="10.5" fill="#1e1e1e" textLength="15.77" lengthAdjust="spacingAndGlyphs" stroke="#1e1e1e" stroke-width="0.25">720</text>
<line x1="509.80" y1="245.40" x2="509.80" y2="248.40" stroke="#383838" stroke-width="1"/>
<text x="502.72" y="257.70" font-size="10.5" fill="#1e1e1e" textLength="15.77" lengthAdjust="spacingAndGlyphs" stroke="#1e1e1e" stroke-width="0.25">960</text>
<text x="413.20" y="201.20" font-size="10.0" fill="#a61e2f" font-weight="bold" stroke="#a61e2f" stroke-width="0.25">L1</text>
<text x="451.20" y="178.10" font-size="10.6" fill="#1e1e1e" textLength="25.00" lengthAdjust="spacingAndGlyphs" stroke="#1e1e1e" stroke-width="0.25" text-decoration="underline">AML1</text>
<text x="412.20" y="187.70" font-size="10.0" fill="#1e1e1e" textLength="104.60" lengthAdjust="spacingAndGlyphs" stroke="#1e1e1e" stroke-width="0.25">Association Dissociation</text>
<path d="M298.50,309.00 L300.55,309.11 L302.61,309.21 L304.66,309.31 L306.72,309.41 L308.77,309.51 L310.82,309.61 L312.88,309.71 L314.93,309.81 L316.99,309.90 L319.04,310.00 L321.10,310.09 L323.15,310.18 L325.20,310.27 L327.26,310.36 L329.31,310.45 L331.37,310.54 L333.42,310.62 L335.48,310.71 L337.53,310.79 L339.58,310.88 L341.64,310.96 L343.69,311.04 L345.75,311.12 L347.80,311.20 L349.73,311.28 L351.67,311.35 L353.60,311.43 L355.53,311.50 L357.47,311.57 L359.40,311.65 L361.33,311.72 L363.27,311.79 L365.20,311.86 L367.13,311.93 L369.07,311.99 L371.00,312.06 L372.93,312.13 L374.87,312.19 L376.80,312.26 L378.73,312.32 L380.67,312.38 L382.60,312.44 L384.53,312.51 L386.47,312.57 L388.40,312.63 L390.33,312.68 L392.27,312.74 L394.20,312.80" fill="none" stroke="#a8c050" stroke-width="1.5" stroke-linejoin="round"/>
<path d="M298.50,309.00 L300.55,308.83 L302.61,308.66 L304.66,308.49 L306.72,308.32 L308.77,308.16 L310.82,308.00 L312.88,307.84 L314.93,307.68 L316.99,307.52 L319.04,307.37 L321.10,307.22 L323.15,307.07 L325.20,306.92 L327.26,306.77 L329.31,306.63 L331.37,306.48 L333.42,306.34 L335.48,306.20 L337.53,306.06 L339.58,305.93 L341.64,305.79 L343.69,305.66 L345.75,305.53 L347.80,305.40 L349.73,305.51 L351.67,305.62 L353.60,305.72 L355.53,305.83 L357.47,305.93 L359.40,306.03 L361.33,306.12 L363.27,306.22 L365.20,306.31 L367.13,306.40 L369.07,306.49 L371.00,306.58 L372.93,306.67 L374.87,306.75 L376.80,306.83 L378.73,306.91 L380.67,306.99 L382.60,307.07 L384.53,307.14 L386.47,307.22 L388.40,307.29 L390.33,307.36 L392.27,307.43 L394.20,307.50" fill="none" stroke="#c8302c" stroke-width="1.5" stroke-linejoin="round"/>
<path d="M298.50,309.00 L300.55,308.81 L302.61,308.62 L304.66,308.43 L306.72,308.25 L308.77,308.06 L310.82,307.88 L312.88,307.71 L314.93,307.53 L316.99,307.36 L319.04,307.19 L321.10,307.02 L323.15,306.85 L325.20,306.69 L327.26,306.52 L329.31,306.36 L331.37,306.20 L333.42,306.05 L335.48,305.89 L337.53,305.74 L339.58,305.59 L341.64,305.44 L343.69,305.29 L345.75,305.14 L347.80,305.00 L349.73,305.10 L351.67,305.21 L353.60,305.31 L355.53,305.41 L357.47,305.50 L359.40,305.60 L361.33,305.69 L363.27,305.78 L365.20,305.87 L367.13,305.96 L369.07,306.04 L371.00,306.12 L372.93,306.21 L374.87,306.29 L376.80,306.36 L378.73,306.44 L380.67,306.52 L382.60,306.59 L384.53,306.66 L386.47,306.73 L388.40,306.80 L390.33,306.87 L392.27,306.94 L394.20,307.00" fill="none" stroke="#2e5040" stroke-width="1.5" stroke-linejoin="round"/>
<path d="M298.50,309.00 L300.55,308.65 L302.61,308.30 L304.66,307.95 L306.72,307.61 L308.77,307.27 L310.82,306.94 L312.88,306.61 L314.93,306.28 L316.99,305.96 L319.04,305.65 L321.10,305.33 L323.15,305.02 L325.20,304.72 L327.26,304.42 L329.31,304.12 L331.37,303.82 L333.42,303.53 L335.48,303.25 L337.53,302.96 L339.58,302.68 L341.64,302.41 L343.69,302.14 L345.75,301.87 L347.80,301.60 L349.73,301.75 L351.67,301.89 L353.60,302.03 L355.53,302.17 L357.47,302.30 L359.40,302.44 L361.33,302.57 L363.27,302.69 L365.20,302.82 L367.13,302.94 L369.07,303.06 L371.00,303.17 L372.93,303.29 L374.87,303.40 L376.80,303.51 L378.73,303.62 L380.67,303.72 L382.60,303.83 L384.53,303.93 L386.47,304.02 L388.40,304.12 L390.33,304.22 L392.27,304.31 L394.20,304.40" fill="none" stroke="#2222b0" stroke-width="1.5" stroke-linejoin="round"/>
<line x1="347.50" y1="263.40" x2="347.50" y2="317.10" stroke="#1a1a1a" stroke-width="1"/>
<rect x="294.50" y="263.50" width="106.00" height="54.00" fill="none" stroke="#383838" stroke-width="1.1"/>
<line x1="291.40" y1="310.00" x2="294.40" y2="310.00" stroke="#383838" stroke-width="1"/>
<text x="277.43" y="314.30" font-size="10.5" fill="#1e1e1e" textLength="13.57" lengthAdjust="spacingAndGlyphs" stroke="#1e1e1e" stroke-width="0.25">0.0</text>
<line x1="291.40" y1="287.76" x2="294.40" y2="287.76" stroke="#383838" stroke-width="1"/>
<text x="277.43" y="292.06" font-size="10.5" fill="#1e1e1e" textLength="13.57" lengthAdjust="spacingAndGlyphs" stroke="#1e1e1e" stroke-width="0.25">0.4</text>
<line x1="291.40" y1="265.52" x2="294.40" y2="265.52" stroke="#383838" stroke-width="1"/>
<text x="277.43" y="269.82" font-size="10.5" fill="#1e1e1e" textLength="13.57" lengthAdjust="spacingAndGlyphs" stroke="#1e1e1e" stroke-width="0.25">0.8</text>
<line x1="291.40" y1="298.88" x2="294.40" y2="298.88" stroke="#383838" stroke-width="1"/>
<line x1="291.40" y1="276.64" x2="294.40" y2="276.64" stroke="#383838" stroke-width="1"/>
<line x1="298.50" y1="317.10" x2="298.50" y2="320.10" stroke="#383838" stroke-width="1"/>
<text x="296.67" y="329.50" font-size="10.5" fill="#1e1e1e" textLength="5.26" lengthAdjust="spacingAndGlyphs" stroke="#1e1e1e" stroke-width="0.25">0</text>
<line x1="323.15" y1="317.10" x2="323.15" y2="320.10" stroke="#383838" stroke-width="1"/>
<text x="316.07" y="329.50" font-size="10.5" fill="#1e1e1e" textLength="15.77" lengthAdjust="spacingAndGlyphs" stroke="#1e1e1e" stroke-width="0.25">240</text>
<line x1="347.80" y1="317.10" x2="347.80" y2="320.10" stroke="#383838" stroke-width="1"/>
<text x="340.72" y="329.50" font-size="10.5" fill="#1e1e1e" textLength="15.77" lengthAdjust="spacingAndGlyphs" stroke="#1e1e1e" stroke-width="0.25">480</text>
<line x1="371.00" y1="317.10" x2="371.00" y2="320.10" stroke="#383838" stroke-width="1"/>
<text x="363.92" y="329.50" font-size="10.5" fill="#1e1e1e" textLength="15.77" lengthAdjust="spacingAndGlyphs" stroke="#1e1e1e" stroke-width="0.25">720</text>
<line x1="394.20" y1="317.10" x2="394.20" y2="320.10" stroke="#383838" stroke-width="1"/>
<text x="387.12" y="329.50" font-size="10.5" fill="#1e1e1e" textLength="15.77" lengthAdjust="spacingAndGlyphs" stroke="#1e1e1e" stroke-width="0.25">960</text>
<text x="297.80" y="273.10" font-size="10.0" fill="#a61e2f" font-weight="bold" stroke="#a61e2f" stroke-width="0.25">L2</text>
<text transform="translate(272.50,287.80) rotate(-90)" font-size="9.7" fill="#1e1e1e" stroke="#1e1e1e" stroke-width="0.25" text-anchor="middle">Shift (nm)</text>
<path d="M414.70,308.60 L416.74,308.77 L418.78,308.94 L420.82,309.10 L422.87,309.27 L424.91,309.42 L426.95,309.58 L428.99,309.74 L431.03,309.89 L433.07,310.04 L435.12,310.18 L437.16,310.33 L439.20,310.47 L441.24,310.61 L443.28,310.75 L445.32,310.88 L447.37,311.01 L449.41,311.14 L451.45,311.27 L453.49,311.40 L455.53,311.52 L457.57,311.65 L459.62,311.77 L461.66,311.88 L463.70,312.00 L465.63,312.09 L467.56,312.17 L469.49,312.26 L471.42,312.34 L473.35,312.42 L475.27,312.50 L477.20,312.58 L479.13,312.66 L481.06,312.74 L482.99,312.82 L484.92,312.89 L486.85,312.97 L488.78,313.04 L490.71,313.11 L492.64,313.19 L494.57,313.26 L496.50,313.33 L498.43,313.40 L500.35,313.47 L502.28,313.54 L504.21,313.60 L506.14,313.67 L508.07,313.74 L510.00,313.80" fill="none" stroke="#a8c050" stroke-width="1.5" stroke-linejoin="round"/>
<path d="M414.70,308.60 L416.74,307.85 L418.78,307.11 L420.82,306.38 L422.87,305.67 L424.91,304.98 L426.95,304.30 L428.99,303.63 L431.03,302.98 L433.07,302.34 L435.12,301.72 L437.16,301.10 L439.20,300.50 L441.24,299.92 L443.28,299.34 L445.32,298.78 L447.37,298.23 L449.41,297.69 L451.45,297.16 L453.49,296.64 L455.53,296.13 L457.57,295.63 L459.62,295.14 L461.66,294.67 L463.70,294.20 L465.63,294.34 L467.56,294.47 L469.49,294.60 L471.42,294.72 L473.35,294.84 L475.27,294.96 L477.20,295.07 L479.13,295.18 L481.06,295.28 L482.99,295.38 L484.92,295.48 L486.85,295.58 L488.78,295.67 L490.71,295.76 L492.64,295.84 L494.57,295.93 L496.50,296.01 L498.43,296.08 L500.35,296.16 L502.28,296.23 L504.21,296.30 L506.14,296.37 L508.07,296.44 L510.00,296.50" fill="none" stroke="#2e5040" stroke-width="1.5" stroke-linejoin="round"/>
<path d="M414.70,308.60 L416.74,306.89 L418.78,305.25 L420.82,303.67 L422.87,302.15 L424.91,300.68 L426.95,299.26 L428.99,297.90 L431.03,296.59 L433.07,295.33 L435.12,294.11 L437.16,292.94 L439.20,291.81 L441.24,290.72 L443.28,289.67 L445.32,288.66 L447.37,287.69 L449.41,286.76 L451.45,285.85 L453.49,284.99 L455.53,284.15 L457.57,283.34 L459.62,282.57 L461.66,281.82 L463.70,281.10 L465.63,281.35 L467.56,281.59 L469.49,281.82 L471.42,282.05 L473.35,282.26 L475.27,282.46 L477.20,282.66 L479.13,282.85 L481.06,283.03 L482.99,283.20 L484.92,283.37 L486.85,283.53 L488.78,283.68 L490.71,283.83 L492.64,283.97 L494.57,284.10 L496.50,284.23 L498.43,284.36 L500.35,284.47 L502.28,284.59 L504.21,284.70 L506.14,284.80 L508.07,284.90 L510.00,285.00" fill="none" stroke="#c8302c" stroke-width="1.5" stroke-linejoin="round"/>
<path d="M414.70,308.60 L416.74,306.36 L418.78,304.21 L420.82,302.15 L422.87,300.17 L424.91,298.28 L426.95,296.46 L428.99,294.71 L431.03,293.04 L433.07,291.43 L435.12,289.89 L437.16,288.42 L439.20,287.00 L441.24,285.64 L443.28,284.34 L445.32,283.09 L447.37,281.89 L449.41,280.74 L451.45,279.64 L453.49,278.58 L455.53,277.56 L457.57,276.59 L459.62,275.65 L461.66,274.76 L463.70,273.90 L465.63,274.14 L467.56,274.37 L469.49,274.59 L471.42,274.80 L473.35,275.00 L475.27,275.19 L477.20,275.38 L479.13,275.56 L481.06,275.73 L482.99,275.89 L484.92,276.05 L486.85,276.20 L488.78,276.35 L490.71,276.49 L492.64,276.62 L494.57,276.75 L496.50,276.87 L498.43,276.99 L500.35,277.10 L502.28,277.21 L504.21,277.31 L506.14,277.41 L508.07,277.51 L510.00,277.60" fill="none" stroke="#2222b0" stroke-width="1.5" stroke-linejoin="round"/>
<line x1="463.50" y1="263.40" x2="463.50" y2="317.10" stroke="#1a1a1a" stroke-width="1"/>
<rect x="410.50" y="263.50" width="106.00" height="54.00" fill="none" stroke="#383838" stroke-width="1.1"/>
<line x1="407.00" y1="310.00" x2="410.00" y2="310.00" stroke="#383838" stroke-width="1"/>
<line x1="407.00" y1="287.76" x2="410.00" y2="287.76" stroke="#383838" stroke-width="1"/>
<line x1="407.00" y1="265.52" x2="410.00" y2="265.52" stroke="#383838" stroke-width="1"/>
<line x1="407.00" y1="298.88" x2="410.00" y2="298.88" stroke="#383838" stroke-width="1"/>
<line x1="407.00" y1="276.64" x2="410.00" y2="276.64" stroke="#383838" stroke-width="1"/>
<line x1="414.70" y1="317.10" x2="414.70" y2="320.10" stroke="#383838" stroke-width="1"/>
<text x="412.87" y="329.50" font-size="10.5" fill="#1e1e1e" textLength="5.26" lengthAdjust="spacingAndGlyphs" stroke="#1e1e1e" stroke-width="0.25">0</text>
<line x1="439.20" y1="317.10" x2="439.20" y2="320.10" stroke="#383838" stroke-width="1"/>
<text x="432.12" y="329.50" font-size="10.5" fill="#1e1e1e" textLength="15.77" lengthAdjust="spacingAndGlyphs" stroke="#1e1e1e" stroke-width="0.25">240</text>
<line x1="463.70" y1="317.10" x2="463.70" y2="320.10" stroke="#383838" stroke-width="1"/>
<text x="456.62" y="329.50" font-size="10.5" fill="#1e1e1e" textLength="15.77" lengthAdjust="spacingAndGlyphs" stroke="#1e1e1e" stroke-width="0.25">480</text>
<line x1="486.85" y1="317.10" x2="486.85" y2="320.10" stroke="#383838" stroke-width="1"/>
<text x="479.77" y="329.50" font-size="10.5" fill="#1e1e1e" textLength="15.77" lengthAdjust="spacingAndGlyphs" stroke="#1e1e1e" stroke-width="0.25">720</text>
<line x1="510.00" y1="317.10" x2="510.00" y2="320.10" stroke="#383838" stroke-width="1"/>
<text x="502.92" y="329.50" font-size="10.5" fill="#1e1e1e" textLength="15.77" lengthAdjust="spacingAndGlyphs" stroke="#1e1e1e" stroke-width="0.25">960</text>
<text x="413.40" y="273.10" font-size="10.0" fill="#a61e2f" font-weight="bold" stroke="#a61e2f" stroke-width="0.25">L2</text>
<text x="364.40" y="35.00" font-size="7.6" fill="#1e1e1e" textLength="30.20" lengthAdjust="spacingAndGlyphs" stroke="#1e1e1e" stroke-width="0.25" text-decoration="underline">134.0 nM</text>
<text x="368.00" y="55.00" font-size="7.6" fill="#1e1e1e" textLength="26.60" lengthAdjust="spacingAndGlyphs" stroke="#1e1e1e" stroke-width="0.25" text-decoration="underline">44.6 nM</text>
<text x="368.60" y="67.00" font-size="7.6" fill="#1e1e1e" textLength="26.00" lengthAdjust="spacingAndGlyphs" stroke="#1e1e1e" stroke-width="0.25" text-decoration="underline">14.8 nM</text>
<text x="404.50" y="167.80" font-size="9.8" fill="#1e1e1e" text-anchor="middle" stroke="#1e1e1e" stroke-width="0.25">Time (s)</text>
<text x="408.00" y="337.90" font-size="9.8" fill="#1e1e1e" text-anchor="middle" stroke="#1e1e1e" stroke-width="0.25">Time (s)</text>
<text x="0.50" y="344.60" font-size="16.0" fill="#111" font-weight="bold" textLength="12.40" lengthAdjust="spacingAndGlyphs" stroke="#111" stroke-width="0.4">B</text>
<text x="27.60" y="351.70" font-size="9.6" fill="#1a1a1a" font-weight="bold" textLength="24.60" lengthAdjust="spacingAndGlyphs" stroke="#1a1a1a" stroke-width="0.25">Input</text>
<text x="91.70" y="352.30" font-size="9.2" fill="#365f3b" font-weight="bold" text-anchor="middle" stroke="#365f3b" stroke-width="0.25">S1</text>
<line x1="78.60" y1="355.90" x2="104.80" y2="355.90" stroke="#3a3a3a" stroke-width="1.5"/>
<text x="131.25" y="352.30" font-size="9.2" fill="#365f3b" font-weight="bold" text-anchor="middle" stroke="#365f3b" stroke-width="0.25">S2</text>
<line x1="118.20" y1="355.90" x2="144.30" y2="355.90" stroke="#3a3a3a" stroke-width="1.5"/>
<text x="168.70" y="352.30" font-size="9.2" fill="#a61e2f" font-weight="bold" text-anchor="middle" stroke="#a61e2f" stroke-width="0.25">L1</text>
<line x1="155.80" y1="355.90" x2="181.60" y2="355.90" stroke="#3a3a3a" stroke-width="1.5"/>
<text x="206.75" y="352.30" font-size="9.2" fill="#a61e2f" font-weight="bold" text-anchor="middle" stroke="#a61e2f" stroke-width="0.25">L2</text>
<line x1="194.00" y1="355.90" x2="219.50" y2="355.90" stroke="#3a3a3a" stroke-width="1.5"/>
<line x1="23.30" y1="397.80" x2="33.80" y2="397.80" stroke="#222" stroke-width="1.2"/>
<text transform="translate(29.10,396.60) rotate(-45)" font-size="10.1" fill="#1e1e1e" stroke="#1e1e1e" stroke-width="0.25">AML1/ETO</text>
<line x1="41.90" y1="397.80" x2="52.50" y2="397.80" stroke="#222" stroke-width="1.2"/>
<text transform="translate(45.90,396.60) rotate(-45)" font-size="10.1" fill="#1e1e1e" stroke="#1e1e1e" stroke-width="0.25">AML1</text>
<line x1="74.00" y1="397.80" x2="83.00" y2="397.80" stroke="#222" stroke-width="1.2"/>
<text transform="translate(79.80,396.60) rotate(-45)" font-size="10.1" fill="#1e1e1e" stroke="#1e1e1e" stroke-width="0.25">AML1/ETO</text>
<line x1="92.00" y1="397.80" x2="102.60" y2="397.80" stroke="#222" stroke-width="1.2"/>
<text transform="translate(96.00,396.60) rotate(-45)" font-size="10.1" fill="#1e1e1e" stroke="#1e1e1e" stroke-width="0.25">AML1</text>
<line x1="112.30" y1="397.80" x2="122.20" y2="397.80" stroke="#222" stroke-width="1.2"/>
<text transform="translate(118.10,396.60) rotate(-45)" font-size="10.1" fill="#1e1e1e" stroke="#1e1e1e" stroke-width="0.25">AML1/ETO</text>
<line x1="130.70" y1="397.80" x2="141.30" y2="397.80" stroke="#222" stroke-width="1.2"/>
<text transform="translate(134.70,396.60) rotate(-45)" font-size="10.1" fill="#1e1e1e" stroke="#1e1e1e" stroke-width="0.25">AML1</text>
<line x1="149.30" y1="397.80" x2="159.90" y2="397.80" stroke="#222" stroke-width="1.2"/>
<text transform="translate(155.10,396.60) rotate(-45)" font-size="10.1" fill="#1e1e1e" stroke="#1e1e1e" stroke-width="0.25">AML1/ETO</text>
<line x1="168.10" y1="397.80" x2="178.70" y2="397.80" stroke="#222" stroke-width="1.2"/>
<text transform="translate(172.10,396.60) rotate(-45)" font-size="10.1" fill="#1e1e1e" stroke="#1e1e1e" stroke-width="0.25">AML1</text>
<line x1="186.30" y1="397.80" x2="196.40" y2="397.80" stroke="#222" stroke-width="1.2"/>
<text transform="translate(192.10,396.60) rotate(-45)" font-size="10.1" fill="#1e1e1e" stroke="#1e1e1e" stroke-width="0.25">AML1/ETO</text>
<line x1="204.90" y1="397.80" x2="215.50" y2="397.80" stroke="#222" stroke-width="1.2"/>
<text transform="translate(208.90,396.60) rotate(-45)" font-size="10.1" fill="#1e1e1e" stroke="#1e1e1e" stroke-width="0.25">AML1</text>
<defs><filter id="bl1" x="-50%" y="-50%" width="200%" height="200%"><feGaussianBlur stdDeviation="0.9"/></filter><filter id="bl2" x="-50%" y="-50%" width="200%" height="200%"><feGaussianBlur stdDeviation="1.6"/></filter><filter id="bl3" x="-50%" y="-50%" width="200%" height="200%"><feGaussianBlur stdDeviation="3"/></filter></defs>
<defs><linearGradient id="gin" x1="0" y1="0" x2="1" y2="0"><stop offset="0" stop-color="#e0e0e0"/><stop offset="0.45" stop-color="#e6e6e6"/><stop offset="1" stop-color="#ebebeb"/></linearGradient></defs>
<rect x="19.40" y="399.60" width="35.00" height="55.20" fill="url(#gin)"/>
<rect x="22.00" y="414.00" width="14.00" height="8.00" rx="4.00" fill="#dadada" filter="url(#bl3)"/>
<g filter="url(#bl1)"><rect x="21.30" y="407.50" width="14.50" height="4.60" rx="2.30" fill="#2a2a2a"/><ellipse cx="24.05" cy="409.80" rx="2.75" ry="2.80" fill="#080808"/><ellipse cx="33.05" cy="409.80" rx="2.75" ry="2.80" fill="#080808"/></g>
<g filter="url(#bl1)"><rect x="39.80" y="444.40" width="12.40" height="3.80" rx="1.90" fill="#3a3a3a"/><ellipse cx="42.05" cy="446.30" rx="2.25" ry="2.20" fill="#0c0c0c"/><ellipse cx="49.95" cy="446.30" rx="2.25" ry="2.20" fill="#0c0c0c"/></g>
<defs><linearGradient id="gs1" x1="0" y1="0" x2="1" y2="0"><stop offset="0" stop-color="#e6e6e6"/><stop offset="0.15" stop-color="#efefef"/><stop offset="1" stop-color="#f3f3f3"/></linearGradient></defs>
<rect x="70.30" y="399.60" width="35.40" height="55.20" fill="url(#gs1)"/>
<line x1="105.60" y1="399.60" x2="105.60" y2="454.80" stroke="#b8b8b8" stroke-width="0.8"/>
<rect x="73.00" y="412.50" width="14.00" height="4.00" rx="2.00" fill="#b0b0b0" filter="url(#bl2)"/>
<rect x="73.00" y="426.00" width="14.00" height="8.00" rx="4.00" fill="#e4e4e4" filter="url(#bl3)"/>
<g filter="url(#bl1)"><rect x="72.60" y="406.70" width="14.40" height="5.20" rx="2.60" fill="#141414"/><ellipse cx="74.60" cy="409.30" rx="2.00" ry="2.80" fill="#050505"/><ellipse cx="85.00" cy="409.30" rx="2.00" ry="2.80" fill="#050505"/></g>
<g filter="url(#bl1)"><rect x="91.00" y="444.40" width="12.50" height="2.40" rx="1.20" fill="#b4b4b4"/><ellipse cx="93.00" cy="445.60" rx="2.00" ry="1.60" fill="#7c7c7c"/><ellipse cx="101.50" cy="445.60" rx="2.00" ry="1.60" fill="#7c7c7c"/></g>
<defs><linearGradient id="gs2" x1="0" y1="0" x2="1" y2="0"><stop offset="0" stop-color="#e4e4e4"/><stop offset="0.12" stop-color="#d6d6d6"/><stop offset="1" stop-color="#dadada"/></linearGradient></defs>
<rect x="107.20" y="399.60" width="37.20" height="55.20" fill="url(#gs2)"/>
<rect x="111.00" y="414.50" width="15.00" height="5.00" rx="2.50" fill="#c8c8c8" filter="url(#bl2)"/>
<rect x="111.50" y="422.00" width="14.00" height="5.00" rx="2.50" fill="#bababa" filter="url(#bl2)"/>
<rect x="111.50" y="429.50" width="14.00" height="5.00" rx="2.50" fill="#c2c2c2" filter="url(#bl2)"/>
<rect x="112.00" y="436.00" width="13.00" height="4.00" rx="2.00" fill="#cdcdcd" filter="url(#bl2)"/>
<g filter="url(#bl1)"><rect x="110.00" y="405.10" width="16.60" height="8.60" rx="4.30" fill="#0a0a0a"/><ellipse cx="112.50" cy="409.40" rx="2.50" ry="5.25" fill="#000"/><ellipse cx="124.10" cy="409.40" rx="2.50" ry="5.25" fill="#000"/></g>
<g filter="url(#bl1)"><rect x="128.40" y="444.20" width="14.10" height="3.60" rx="1.80" fill="#3a3a3a"/><ellipse cx="130.65" cy="446.00" rx="2.25" ry="2.20" fill="#101010"/><ellipse cx="140.25" cy="446.00" rx="2.25" ry="2.20" fill="#101010"/></g>
<defs><linearGradient id="gl1" x1="0" y1="0" x2="1" y2="0"><stop offset="0" stop-color="#dedede"/><stop offset="1" stop-color="#e4e4e4"/></linearGradient></defs>
<rect x="145.60" y="399.60" width="35.80" height="55.20" fill="url(#gl1)"/>
<rect x="147.00" y="408.00" width="14.00" height="1.60" rx="0.80" fill="#c2c2c2" filter="url(#bl1)"/>
<rect x="146.80" y="407.30" width="4.00" height="2.60" rx="1.30" fill="#8a8a8a" filter="url(#bl1)"/>
<rect x="157.00" y="407.50" width="4.00" height="2.60" rx="1.30" fill="#8a8a8a" filter="url(#bl1)"/>
<rect x="166.00" y="436.00" width="14.00" height="8.00" rx="4.00" fill="#c6c6c6" filter="url(#bl3)"/>
<g filter="url(#bl1)"><rect x="165.20" y="443.00" width="15.20" height="6.00" rx="3.00" fill="#050505"/><ellipse cx="167.20" cy="446.00" rx="2.00" ry="3.30" fill="#000"/><ellipse cx="178.40" cy="446.00" rx="2.00" ry="3.30" fill="#000"/></g>
<defs><linearGradient id="gl2" x1="0" y1="0" x2="1" y2="0"><stop offset="0" stop-color="#e6e6e6"/><stop offset="1" stop-color="#eeeeee"/></linearGradient></defs>
<rect x="182.80" y="399.60" width="35.40" height="55.20" fill="url(#gl2)"/>
<rect x="184.00" y="407.70" width="4.50" height="2.20" rx="1.10" fill="#acacac" filter="url(#bl1)"/>
<rect x="193.50" y="407.70" width="4.50" height="2.20" rx="1.10" fill="#acacac" filter="url(#bl1)"/>
<rect x="196.00" y="429.10" width="2.50" height="1.80" rx="0.90" fill="#c4c4c4" filter="url(#bl1)"/>
<g filter="url(#bl1)"><rect x="202.80" y="445.80" width="12.70" height="3.60" rx="1.80" fill="#505050"/><ellipse cx="205.80" cy="447.60" rx="3.00" ry="2.10" fill="#101010"/><ellipse cx="212.50" cy="447.60" rx="3.00" ry="2.10" fill="#101010"/></g>
<text x="2.30" y="411.70" font-size="10.2" fill="#1e1e1e" stroke="#1e1e1e" stroke-width="0.25">95</text>
<line x1="13.60" y1="409.00" x2="18.90" y2="409.00" stroke="#222" stroke-width="1.2"/>
<text x="2.30" y="448.90" font-size="10.2" fill="#1e1e1e" stroke="#1e1e1e" stroke-width="0.25">55</text>
<line x1="13.60" y1="446.10" x2="18.90" y2="446.10" stroke="#222" stroke-width="1.2"/>
<text x="55.40" y="410.30" font-size="10.2" fill="#1e1e1e" stroke="#1e1e1e" stroke-width="0.25">95</text>
<line x1="65.60" y1="407.90" x2="70.20" y2="407.90" stroke="#222" stroke-width="1.2"/>
<text x="55.40" y="448.90" font-size="10.2" fill="#1e1e1e" stroke="#1e1e1e" stroke-width="0.25">55</text>
<line x1="65.60" y1="445.90" x2="70.20" y2="445.90" stroke="#222" stroke-width="1.2"/>
<line x1="219.70" y1="410.00" x2="223.20" y2="410.00" stroke="#222" stroke-width="1.2"/>
<text x="224.00" y="413.60" font-size="10" fill="#1e1e1e" textLength="47.00" lengthAdjust="spacingAndGlyphs" stroke="#1e1e1e" stroke-width="0.25">AML1/ETO</text>
<line x1="219.70" y1="447.50" x2="223.20" y2="447.50" stroke="#222" stroke-width="1.2"/>
<text x="224.00" y="451.10" font-size="10" fill="#1e1e1e" textLength="25.20" lengthAdjust="spacingAndGlyphs" stroke="#1e1e1e" stroke-width="0.25">AML1</text>
<text x="265.50" y="344.90" font-size="15.8" fill="#111" font-weight="bold" textLength="12.90" lengthAdjust="spacingAndGlyphs" stroke="#111" stroke-width="0.5">C</text>
<text transform="translate(277.6,431.6) rotate(-90)" font-size="9.8" fill="#1e1e1e" stroke="#1e1e1e" stroke-width="0.25">Fold versus total</text>
<rect x="297.10" y="376.20" width="10.10" height="53.80" fill="#231f20"/>
<line x1="302.15" y1="376.20" x2="302.15" y2="374.60" stroke="#1a1a1a" stroke-width="1"/>
<line x1="300.05" y1="374.60" x2="304.25" y2="374.60" stroke="#1a1a1a" stroke-width="1"/>
<rect x="311.00" y="411.90" width="10.00" height="18.10" fill="#a6a6a6"/>
<line x1="316.00" y1="411.90" x2="316.00" y2="411.30" stroke="#8c8c8c" stroke-width="1"/>
<line x1="313.90" y1="411.30" x2="318.10" y2="411.30" stroke="#8c8c8c" stroke-width="1"/>
<line x1="325.60" y1="429.70" x2="335.00" y2="429.70" stroke="#555" stroke-width="0.9"/>
<line x1="295.50" y1="371.40" x2="295.50" y2="430.50" stroke="#222" stroke-width="1"/>
<line x1="295.00" y1="430.00" x2="338.80" y2="430.00" stroke="#222" stroke-width="1"/>
<line x1="293.30" y1="430.00" x2="295.50" y2="430.00" stroke="#222" stroke-width="1"/>
<text x="287.38" y="433.50" font-size="10.0" fill="#1e1e1e" textLength="5.12" lengthAdjust="spacingAndGlyphs" stroke="#1e1e1e" stroke-width="0.25">0</text>
<line x1="293.30" y1="415.48" x2="295.50" y2="415.48" stroke="#222" stroke-width="1"/>
<text x="287.38" y="418.98" font-size="10.0" fill="#1e1e1e" textLength="5.12" lengthAdjust="spacingAndGlyphs" stroke="#1e1e1e" stroke-width="0.25">5</text>
<line x1="293.30" y1="400.95" x2="295.50" y2="400.95" stroke="#222" stroke-width="1"/>
<text x="282.27" y="404.45" font-size="10.0" fill="#1e1e1e" textLength="10.23" lengthAdjust="spacingAndGlyphs" stroke="#1e1e1e" stroke-width="0.25">10</text>
<line x1="293.30" y1="386.42" x2="295.50" y2="386.42" stroke="#222" stroke-width="1"/>
<text x="282.27" y="389.92" font-size="10.0" fill="#1e1e1e" textLength="10.23" lengthAdjust="spacingAndGlyphs" stroke="#1e1e1e" stroke-width="0.25">15</text>
<line x1="293.30" y1="371.90" x2="295.50" y2="371.90" stroke="#222" stroke-width="1"/>
<text x="282.27" y="375.40" font-size="10.0" fill="#1e1e1e" textLength="10.23" lengthAdjust="spacingAndGlyphs" stroke="#1e1e1e" stroke-width="0.25">20</text>
<line x1="302.15" y1="430.00" x2="302.15" y2="432.50" stroke="#222" stroke-width="0.9"/>
<line x1="316.00" y1="430.00" x2="316.00" y2="432.50" stroke="#222" stroke-width="0.9"/>
<line x1="330.30" y1="430.00" x2="330.30" y2="432.50" stroke="#222" stroke-width="0.9"/>
<text transform="translate(313.95,437.30) rotate(-45)" font-size="9.9" fill="#1e1e1e" stroke="#1e1e1e" stroke-width="0.25" x="-48.79" textLength="48.79" lengthAdjust="spacingAndGlyphs">AML1/ETO</text>
<text transform="translate(327.30,437.30) rotate(-45)" font-size="9.9" fill="#1e1e1e" stroke="#1e1e1e" stroke-width="0.25" x="-24.31" textLength="24.31" lengthAdjust="spacingAndGlyphs">AML1</text>
<text transform="translate(339.60,437.30) rotate(-45)" font-size="9.9" fill="#1e1e1e" stroke="#1e1e1e" stroke-width="0.25" x="-15.96" textLength="15.96" lengthAdjust="spacingAndGlyphs">IgG</text>
<line x1="294.30" y1="357.30" x2="336.00" y2="357.30" stroke="#1a1a1a" stroke-width="1.3"/>
<line x1="311.60" y1="357.40" x2="319.30" y2="357.40" stroke="#365f3b" stroke-width="1.6"/>
<text x="315.45" y="354.60" font-size="9.6" fill="#365f3b" font-weight="bold" text-anchor="middle" stroke="#365f3b" stroke-width="0.25">S1</text>
<text x="294.60" y="352.80" font-size="6.6" fill="#333" stroke="#333" stroke-width="0.25">F</text>
<line x1="294.60" y1="354.40" x2="299.80" y2="354.40" stroke="#444" stroke-width="0.7"/>
<path d="M300.50,354.4 L298.90,353.5 L298.90,355.3 Z" fill="#444"/>
<text x="331.80" y="367.10" font-size="7.0" fill="#333" stroke="#333" stroke-width="0.25">R</text>
<line x1="330.60" y1="360.20" x2="335.40" y2="360.20" stroke="#444" stroke-width="0.7"/>
<path d="M329.90,360.2 L331.50,359.3 L331.50,361.1 Z" fill="#444"/>
<rect x="359.50" y="382.90" width="9.50" height="47.50" fill="#0c0c0c"/>
<line x1="364.25" y1="382.90" x2="364.25" y2="376.90" stroke="#1a1a1a" stroke-width="1"/>
<line x1="362.15" y1="376.90" x2="366.35" y2="376.90" stroke="#1a1a1a" stroke-width="1"/>
<rect x="372.90" y="422.90" width="9.60" height="7.50" fill="#a6a6a6"/>
<line x1="377.70" y1="422.90" x2="377.70" y2="420.60" stroke="#8c8c8c" stroke-width="1"/>
<line x1="375.60" y1="420.60" x2="379.80" y2="420.60" stroke="#8c8c8c" stroke-width="1"/>
<line x1="386.00" y1="430.20" x2="395.50" y2="430.20" stroke="#555" stroke-width="0.9"/>
<line x1="357.40" y1="371.60" x2="357.40" y2="430.90" stroke="#222" stroke-width="1"/>
<line x1="356.90" y1="430.40" x2="399.00" y2="430.40" stroke="#222" stroke-width="1"/>
<line x1="355.20" y1="430.40" x2="357.40" y2="430.40" stroke="#222" stroke-width="1"/>
<text x="349.28" y="433.90" font-size="10.0" fill="#1e1e1e" textLength="5.12" lengthAdjust="spacingAndGlyphs" stroke="#1e1e1e" stroke-width="0.25">0</text>
<line x1="355.20" y1="410.97" x2="357.40" y2="410.97" stroke="#222" stroke-width="1"/>
<text x="344.17" y="414.47" font-size="10.0" fill="#1e1e1e" textLength="10.23" lengthAdjust="spacingAndGlyphs" stroke="#1e1e1e" stroke-width="0.25">40</text>
<line x1="355.20" y1="391.53" x2="357.40" y2="391.53" stroke="#222" stroke-width="1"/>
<text x="344.17" y="395.03" font-size="10.0" fill="#1e1e1e" textLength="10.23" lengthAdjust="spacingAndGlyphs" stroke="#1e1e1e" stroke-width="0.25">80</text>
<line x1="355.20" y1="372.10" x2="357.40" y2="372.10" stroke="#222" stroke-width="1"/>
<text x="339.05" y="375.60" font-size="10.0" fill="#1e1e1e" textLength="15.35" lengthAdjust="spacingAndGlyphs" stroke="#1e1e1e" stroke-width="0.25">120</text>
<line x1="364.25" y1="430.40" x2="364.25" y2="432.90" stroke="#222" stroke-width="0.9"/>
<line x1="377.70" y1="430.40" x2="377.70" y2="432.90" stroke="#222" stroke-width="0.9"/>
<line x1="390.75" y1="430.40" x2="390.75" y2="432.90" stroke="#222" stroke-width="0.9"/>
<text transform="translate(376.05,437.70) rotate(-45)" font-size="9.9" fill="#1e1e1e" stroke="#1e1e1e" stroke-width="0.25" x="-48.79" textLength="48.79" lengthAdjust="spacingAndGlyphs">AML1/ETO</text>
<text transform="translate(389.00,437.70) rotate(-45)" font-size="9.9" fill="#1e1e1e" stroke="#1e1e1e" stroke-width="0.25" x="-24.31" textLength="24.31" lengthAdjust="spacingAndGlyphs">AML1</text>
<text transform="translate(400.05,437.70) rotate(-45)" font-size="9.9" fill="#1e1e1e" stroke="#1e1e1e" stroke-width="0.25" x="-15.96" textLength="15.96" lengthAdjust="spacingAndGlyphs">IgG</text>
<line x1="355.30" y1="357.30" x2="397.60" y2="357.30" stroke="#1a1a1a" stroke-width="1.3"/>
<line x1="372.10" y1="357.40" x2="380.30" y2="357.40" stroke="#365f3b" stroke-width="1.6"/>
<text x="376.20" y="354.60" font-size="9.6" fill="#365f3b" font-weight="bold" text-anchor="middle" stroke="#365f3b" stroke-width="0.25">S2</text>
<text x="355.80" y="352.80" font-size="6.6" fill="#333" stroke="#333" stroke-width="0.25">F</text>
<line x1="355.80" y1="354.40" x2="361.00" y2="354.40" stroke="#444" stroke-width="0.7"/>
<path d="M361.70,354.4 L360.10,353.5 L360.10,355.3 Z" fill="#444"/>
<text x="392.80" y="367.10" font-size="7.0" fill="#333" stroke="#333" stroke-width="0.25">R</text>
<line x1="391.60" y1="360.20" x2="396.40" y2="360.20" stroke="#444" stroke-width="0.7"/>
<path d="M390.90,360.2 L392.50,359.3 L392.50,361.1 Z" fill="#444"/>
<rect x="418.30" y="414.50" width="9.50" height="15.60" fill="#231f20"/>
<line x1="423.05" y1="414.50" x2="423.05" y2="412.30" stroke="#1a1a1a" stroke-width="1"/>
<line x1="420.95" y1="412.30" x2="425.15" y2="412.30" stroke="#1a1a1a" stroke-width="1"/>
<rect x="432.20" y="383.70" width="9.50" height="46.40" fill="#a6a6a6"/>
<line x1="436.95" y1="383.70" x2="436.95" y2="380.10" stroke="#8c8c8c" stroke-width="1"/>
<line x1="434.85" y1="380.10" x2="439.05" y2="380.10" stroke="#8c8c8c" stroke-width="1"/>
<rect x="446.00" y="428.50" width="9.60" height="1.60" fill="#f2f2f2" stroke="#8a8a8a" stroke-width="0.8"/>
<line x1="416.20" y1="371.60" x2="416.20" y2="430.60" stroke="#222" stroke-width="1"/>
<line x1="415.70" y1="430.10" x2="460.00" y2="430.10" stroke="#222" stroke-width="1"/>
<line x1="414.00" y1="430.10" x2="416.20" y2="430.10" stroke="#222" stroke-width="1"/>
<text x="408.08" y="433.60" font-size="10.0" fill="#1e1e1e" textLength="5.12" lengthAdjust="spacingAndGlyphs" stroke="#1e1e1e" stroke-width="0.25">0</text>
<line x1="414.00" y1="415.60" x2="416.20" y2="415.60" stroke="#222" stroke-width="1"/>
<text x="408.08" y="419.10" font-size="10.0" fill="#1e1e1e" textLength="5.12" lengthAdjust="spacingAndGlyphs" stroke="#1e1e1e" stroke-width="0.25">4</text>
<line x1="414.00" y1="401.10" x2="416.20" y2="401.10" stroke="#222" stroke-width="1"/>
<text x="408.08" y="404.60" font-size="10.0" fill="#1e1e1e" textLength="5.12" lengthAdjust="spacingAndGlyphs" stroke="#1e1e1e" stroke-width="0.25">8</text>
<line x1="414.00" y1="386.60" x2="416.20" y2="386.60" stroke="#222" stroke-width="1"/>
<text x="402.97" y="390.10" font-size="10.0" fill="#1e1e1e" textLength="10.23" lengthAdjust="spacingAndGlyphs" stroke="#1e1e1e" stroke-width="0.25">12</text>
<line x1="414.00" y1="372.10" x2="416.20" y2="372.10" stroke="#222" stroke-width="1"/>
<text x="402.97" y="375.60" font-size="10.0" fill="#1e1e1e" textLength="10.23" lengthAdjust="spacingAndGlyphs" stroke="#1e1e1e" stroke-width="0.25">16</text>
<line x1="423.05" y1="430.10" x2="423.05" y2="432.60" stroke="#222" stroke-width="0.9"/>
<line x1="436.95" y1="430.10" x2="436.95" y2="432.60" stroke="#222" stroke-width="0.9"/>
<line x1="450.80" y1="430.10" x2="450.80" y2="432.60" stroke="#222" stroke-width="0.9"/>
<text transform="translate(434.85,437.40) rotate(-45)" font-size="9.9" fill="#1e1e1e" stroke="#1e1e1e" stroke-width="0.25" x="-48.79" textLength="48.79" lengthAdjust="spacingAndGlyphs">AML1/ETO</text>
<text transform="translate(448.25,437.40) rotate(-45)" font-size="9.9" fill="#1e1e1e" stroke="#1e1e1e" stroke-width="0.25" x="-24.31" textLength="24.31" lengthAdjust="spacingAndGlyphs">AML1</text>
<text transform="translate(460.10,437.40) rotate(-45)" font-size="9.9" fill="#1e1e1e" stroke="#1e1e1e" stroke-width="0.25" x="-15.96" textLength="15.96" lengthAdjust="spacingAndGlyphs">IgG</text>
<line x1="414.00" y1="357.30" x2="456.00" y2="357.30" stroke="#1a1a1a" stroke-width="1.3"/>
<line x1="431.20" y1="357.40" x2="439.30" y2="357.40" stroke="#e0262a" stroke-width="2.6"/>
<text x="435.25" y="354.60" font-size="9.6" fill="#a61e2f" font-weight="bold" text-anchor="middle" stroke="#a61e2f" stroke-width="0.25">L1</text>
<text x="414.30" y="352.80" font-size="6.6" fill="#333" stroke="#333" stroke-width="0.25">F</text>
<line x1="414.30" y1="354.40" x2="419.50" y2="354.40" stroke="#444" stroke-width="0.7"/>
<path d="M420.20,354.4 L418.60,353.5 L418.60,355.3 Z" fill="#444"/>
<text x="451.80" y="367.10" font-size="7.0" fill="#333" stroke="#333" stroke-width="0.25">R</text>
<line x1="450.60" y1="360.20" x2="455.40" y2="360.20" stroke="#444" stroke-width="0.7"/>
<path d="M449.90,360.2 L451.50,359.3 L451.50,361.1 Z" fill="#444"/>
<rect x="477.30" y="398.40" width="9.50" height="31.40" fill="#0c0c0c"/>
<line x1="482.05" y1="398.40" x2="482.05" y2="392.30" stroke="#1a1a1a" stroke-width="1"/>
<line x1="479.95" y1="392.30" x2="484.15" y2="392.30" stroke="#1a1a1a" stroke-width="1"/>
<rect x="491.20" y="383.30" width="9.90" height="46.50" fill="#a6a6a6"/>
<line x1="496.15" y1="383.30" x2="496.15" y2="376.40" stroke="#8c8c8c" stroke-width="1"/>
<line x1="494.05" y1="376.40" x2="498.25" y2="376.40" stroke="#8c8c8c" stroke-width="1"/>
<line x1="505.00" y1="429.60" x2="514.50" y2="429.60" stroke="#555" stroke-width="0.9"/>
<line x1="475.20" y1="371.70" x2="475.20" y2="430.30" stroke="#222" stroke-width="1"/>
<line x1="474.70" y1="429.80" x2="517.50" y2="429.80" stroke="#222" stroke-width="1"/>
<line x1="473.00" y1="429.80" x2="475.20" y2="429.80" stroke="#222" stroke-width="1"/>
<text x="467.08" y="433.30" font-size="10.0" fill="#1e1e1e" textLength="5.12" lengthAdjust="spacingAndGlyphs" stroke="#1e1e1e" stroke-width="0.25">0</text>
<line x1="473.00" y1="418.28" x2="475.20" y2="418.28" stroke="#222" stroke-width="1"/>
<text x="461.97" y="421.78" font-size="10.0" fill="#1e1e1e" textLength="10.23" lengthAdjust="spacingAndGlyphs" stroke="#1e1e1e" stroke-width="0.25">20</text>
<line x1="473.00" y1="406.76" x2="475.20" y2="406.76" stroke="#222" stroke-width="1"/>
<text x="461.97" y="410.26" font-size="10.0" fill="#1e1e1e" textLength="10.23" lengthAdjust="spacingAndGlyphs" stroke="#1e1e1e" stroke-width="0.25">40</text>
<line x1="473.00" y1="395.24" x2="475.20" y2="395.24" stroke="#222" stroke-width="1"/>
<text x="461.97" y="398.74" font-size="10.0" fill="#1e1e1e" textLength="10.23" lengthAdjust="spacingAndGlyphs" stroke="#1e1e1e" stroke-width="0.25">60</text>
<line x1="473.00" y1="383.72" x2="475.20" y2="383.72" stroke="#222" stroke-width="1"/>
<text x="461.97" y="387.22" font-size="10.0" fill="#1e1e1e" textLength="10.23" lengthAdjust="spacingAndGlyphs" stroke="#1e1e1e" stroke-width="0.25">80</text>
<line x1="473.00" y1="372.20" x2="475.20" y2="372.20" stroke="#222" stroke-width="1"/>
<text x="456.85" y="375.70" font-size="10.0" fill="#1e1e1e" textLength="15.35" lengthAdjust="spacingAndGlyphs" stroke="#1e1e1e" stroke-width="0.25">100</text>
<line x1="482.05" y1="429.80" x2="482.05" y2="432.30" stroke="#222" stroke-width="0.9"/>
<line x1="496.15" y1="429.80" x2="496.15" y2="432.30" stroke="#222" stroke-width="0.9"/>
<line x1="509.75" y1="429.80" x2="509.75" y2="432.30" stroke="#222" stroke-width="0.9"/>
<text transform="translate(493.85,437.10) rotate(-45)" font-size="9.9" fill="#1e1e1e" stroke="#1e1e1e" stroke-width="0.25" x="-48.79" textLength="48.79" lengthAdjust="spacingAndGlyphs">AML1/ETO</text>
<text transform="translate(507.45,437.10) rotate(-45)" font-size="9.9" fill="#1e1e1e" stroke="#1e1e1e" stroke-width="0.25" x="-24.31" textLength="24.31" lengthAdjust="spacingAndGlyphs">AML1</text>
<text transform="translate(519.05,437.10) rotate(-45)" font-size="9.9" fill="#1e1e1e" stroke="#1e1e1e" stroke-width="0.25" x="-15.96" textLength="15.96" lengthAdjust="spacingAndGlyphs">IgG</text>
<line x1="473.00" y1="357.30" x2="515.10" y2="357.30" stroke="#1a1a1a" stroke-width="1.3"/>
<line x1="489.60" y1="357.40" x2="497.80" y2="357.40" stroke="#e0262a" stroke-width="2.6"/>
<text x="493.70" y="354.60" font-size="9.6" fill="#a61e2f" font-weight="bold" text-anchor="middle" stroke="#a61e2f" stroke-width="0.25">L2</text>
<text x="473.60" y="352.80" font-size="6.6" fill="#333" stroke="#333" stroke-width="0.25">F</text>
<line x1="473.60" y1="354.40" x2="478.80" y2="354.40" stroke="#444" stroke-width="0.7"/>
<path d="M479.50,354.4 L477.90,353.5 L477.90,355.3 Z" fill="#444"/>
<text x="510.80" y="367.10" font-size="7.0" fill="#333" stroke="#333" stroke-width="0.25">R</text>
<line x1="509.60" y1="360.20" x2="514.40" y2="360.20" stroke="#444" stroke-width="0.7"/>
<path d="M508.90,360.2 L510.50,359.3 L510.50,361.1 Z" fill="#444"/>
</svg></body></html>
